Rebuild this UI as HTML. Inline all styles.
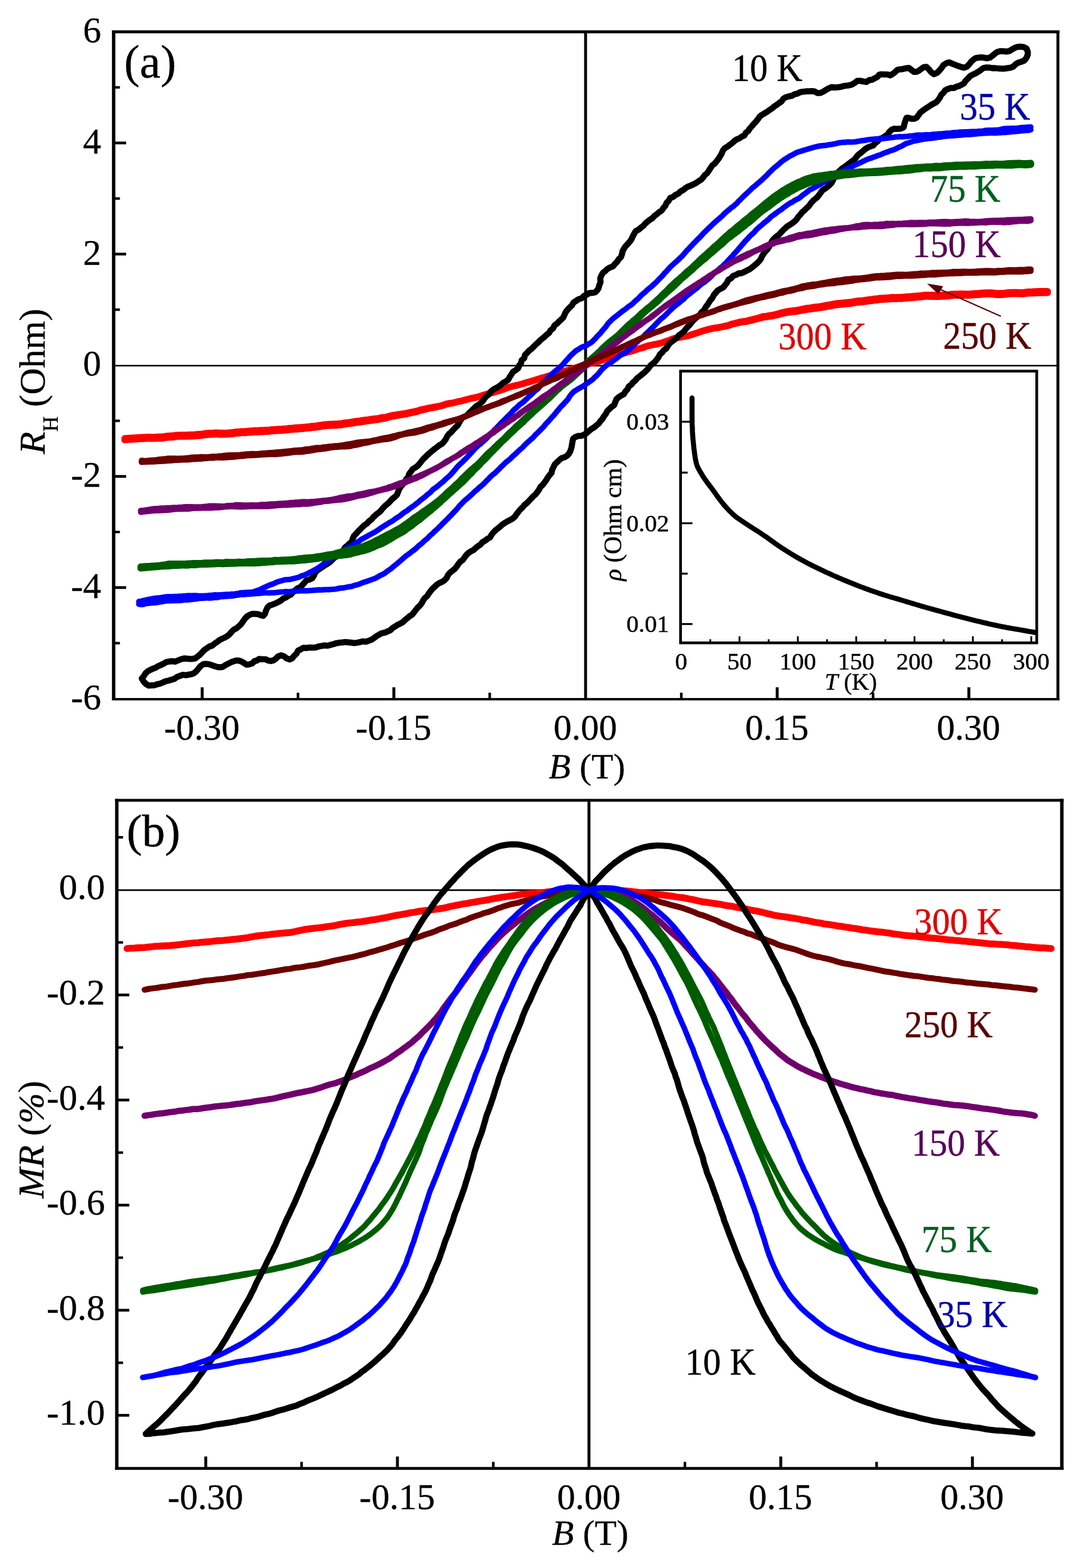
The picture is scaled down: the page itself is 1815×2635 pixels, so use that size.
<!DOCTYPE html>
<html lang="en"><head><meta charset="utf-8"><title>Hall resistance and magnetoresistance</title>
<style>html,body{margin:0;padding:0;background:#fff}body{width:1815px;height:2635px;overflow:hidden}svg{display:block}</style></head>
<body>
<svg width="1815" height="2635" viewBox="0 0 1815 2635" font-family="'Liberation Serif', serif" role="img" aria-label="Hall resistance and magnetoresistance versus magnetic field at several temperatures">
<rect width="1815" height="2635" fill="#fff"/>
<g><line x1="191" y1="614.5" x2="1777.9" y2="614.5" stroke="#000" stroke-width="2.7" stroke-linecap="butt"/>
<line x1="984.1" y1="53.5" x2="984.1" y2="1175" stroke="#000" stroke-width="4.9" stroke-linecap="butt"/>
<path d="M209.5 736.7L214.6 736.3L219.7 736L224.8 735.7L229.9 735.3L235 735L240.1 734.8L245.1 734.5L250.2 734.3L255.3 734.5L260.4 734.4L265.5 734L270.6 734.1L275.6 733.4L280.6 732.8L285.7 732.3L290.7 732.1L295.8 731.3L300.8 731L305.9 730.9L310.9 730.9L316 730.7L321 730.6L326 730.4L331.1 729.8L336.1 729.6L341.1 728.9L346.1 728.3L351.1 727.7L356.1 727.7L361.1 727.1L366.1 727.2L371.2 727.6L376.2 727.5L381.2 727.4L386.2 727L391.2 726.6L396.2 725.7L401.2 725.4L406.1 725L411.2 724.9L416.1 724.5L421.1 724.1L426.1 723.6L431.1 723.6L436 723.1L441 723.1L446 722.7L451 722.7L455.9 721.8L460.9 721.7L465.8 721.2L470.8 721.1L475.8 720.6L480.7 720.4L485.7 719.6L490.6 719.4L495.6 718.8L500.5 718.6L505.5 718L510.4 717.8L515.3 717.3L520.3 716.8L525.2 716L530.1 715.7L535 714.9L539.9 714.1L544.8 713.5L549.8 713L554.7 712.7L559.7 712.5L564.6 712.3L569.6 712L574.5 711.4L579.4 710.5L584.3 709.9L589.2 709.4L594.1 708.5L599 707.6L603.9 707.3L608.8 706.5L613.7 705.7L618.6 705.2L623.5 704.4L628.4 703.7L633.4 703.3L638.2 702.3L643.1 701.5L648.1 701L652.8 699.5L657.7 698.3L662.6 697.5L667.4 696.7L672.4 695.9L677.3 695.2L682.2 694.5L687 693.4L691.9 692.3L696.8 691.4L701.7 690.4L706.4 688.7L711.3 687.7L716.1 686.6L721 685.4L725.9 684.7L730.8 683.7L735.7 682.8L740.6 681.8L745.4 680.5L750.1 678.6L755 677.8L760 677.1L764.9 676L769.7 674.7L774.7 673.8L779.5 672.5L784.4 671.3L789.2 670L794.1 668.9L799 668L803.9 666.7L808.7 665.3L813.5 663.7L818.3 662.3L823.1 660.8L828 659.8L832.8 658.2L837.7 657L842.5 655.4L847.3 653.7L852 651.9L856.8 650.3L861.6 649L866.6 647.9L871.5 646.8L876.4 645.5L881.2 644.1L886 642.6L890.9 641.3L895.8 639.9L900.6 638.3L905.4 636.9L910.2 635.2L915.1 634L919.9 632.6L924.8 631.2L929.6 629.7L934.5 628.3L939.2 626.6L944 624.9L948.9 623.9L953.8 622.5L958.7 621.2L963.4 619.2L968.3 617.9L973 616.1L977.7 614.3L982.6 613L987.5 611.7L992.5 610.6L997.3 609.3L1002.3 608.3L1007.1 606.8L1011.9 605.2L1016.6 603.1L1021.2 601.1L1026.1 599.7L1030.8 597.8L1035.7 596.6L1040.6 595.5L1045.6 594.6L1050.4 592.9L1055.2 591.6L1060.2 590.5L1065 589L1069.7 587.1L1074.6 585.8L1079.4 584.5L1084.2 582.8L1088.9 581.1L1093.9 580.1L1098.8 579L1103.8 578.2L1108.7 577L1113.6 575.8L1118.3 574L1123.1 572.5L1127.8 570.5L1132.5 568.9L1137.4 567.7L1142.4 566.9L1147.3 565.8L1152.3 565L1157.2 564.1L1162 562.5L1166.8 561L1171.6 559.4L1176.3 557.7L1181 556.1L1185.9 554.7L1190.7 553.4L1195.6 552.2L1200.5 551.1L1205.5 550.5L1210.4 549.6L1215.3 548.5L1220.2 547.5L1225.1 546.3L1229.8 544.4L1234.7 543.4L1239.5 542L1244.3 540.8L1249.3 539.9L1254.3 539.4L1259.1 538.2L1263.9 536.9L1268.8 535.7L1273.6 534.4L1278.4 532.9L1283.2 531.6L1288.2 531.2L1293.1 530.1L1298.1 529.5L1302.9 528.3L1307.8 527.2L1312.5 525.6L1317.4 524.5L1322.3 523.4L1327.2 522.6L1332.1 521.9L1337.1 521.5L1342 520.8L1346.9 519.6L1351.8 518.7L1356.6 517.7L1361.6 517.2L1366.5 516.3L1371.4 515.7L1376.3 515.1L1381.3 514.5L1386.1 513.4L1391 512.4L1395.9 511.7L1400.8 510.7L1405.7 509.8L1410.6 509.4L1415.6 508.9L1420.5 508.4L1425.4 508L1430.4 507.5L1435.3 506.6L1440.2 505.8L1445.1 505.3L1450.1 504.9L1455 504.2L1459.9 503.4L1464.8 502.9L1469.7 502.1L1474.7 501.8L1479.6 501L1484.6 500.7L1489.5 500.4L1494.5 500.1L1499.4 499.5L1504.4 499.8L1509.4 499.5L1514.4 499.3L1519.3 498.9L1524.3 498.6L1529.3 498.2L1534.2 497.8L1539.2 497.3L1544.2 496.9L1549.1 496.4L1554.1 495.7L1559.1 495.7L1564.1 495.8L1569.1 495.7L1574.1 496L1579.1 495.9L1584.1 495.7L1589.1 495.5L1594.1 495.1L1599 494.3L1604.1 494L1609.1 493.9L1614.1 493.8L1619.1 493.7L1624.1 494L1629.2 494L1634.2 493.5L1639.2 493L1644.2 493L1649.2 492.3L1654.3 492L1659.3 491.7L1664.3 491.7L1669.4 492.1L1674.5 492.8L1679.5 492.8L1684.6 492.6L1689.6 492.2L1694.7 491.5L1699.7 491.2L1704.8 491.2L1709.9 491.2L1714.9 491.4L1720 491.5L1725.1 490.6L1730.1 490.2L1735.2 490.1L1740.3 489.8L1745.4 489.5L1750.5 489.6L1755.6 489.5L1760.7 489.4" fill="none" stroke="#ff0000" stroke-width="11" stroke-linecap="round" stroke-linejoin="round" />
<path d="M209.5 739.3L214.6 738.9L219.7 738.6L224.8 738.3L229.9 737.9L235 737.6L240.1 737.4L245.1 737.1L250.2 736.9L255.3 737.1L260.4 737L265.5 736.6L270.6 736.7L275.6 736L280.6 735.4L285.7 734.9L290.7 734.7L295.8 733.9L300.8 733.6L305.9 733.5L310.9 733.5L316 733.3L321 733.2L326 733L331.1 732.4L336.1 732.2L341.1 731.5L346.1 730.9L351.1 730.3L356.1 730.3L361.1 729.7L366.1 729.8L371.2 730.2L376.2 730.1L381.2 730L386.2 729.6L391.2 729.2L396.2 728.3L401.2 728L406.1 727.6L411.2 727.5L416.1 727.1L421.1 726.7L426.1 726.2L431.1 726.2L436 725.7L441 725.7L446 725.3L451 725.3L455.9 724.4L460.9 724.3L465.8 723.8L470.8 723.7L475.8 723.2L480.7 723L485.7 722.2L490.6 722L495.6 721.4L500.5 721.2L505.5 720.6L510.4 720.4L515.3 719.9L520.3 719.4L525.2 718.6L530.1 718.3L535 717.5L539.9 716.7L544.8 716.1L549.8 715.6L554.7 715.3L559.7 715.1L564.6 714.9L569.6 714.6L574.5 714L579.4 713.1L584.3 712.4L589.2 711.9L594.1 711.1L599 710.1L603.9 709.7L608.8 708.9L613.7 708L618.6 707.5L623.5 706.7L628.4 706L633.4 705.5L638.2 704.5L643.1 703.6L648.1 703L652.8 701.4L657.7 700.2L662.6 699.3L667.4 698.4L672.4 697.6L677.3 696.8L682.2 696.1L687 694.8L691.9 693.7L696.8 692.8L701.7 691.6L706.4 689.9L711.3 688.8L716.1 687.6L720.9 686.4L725.9 685.6L730.8 684.6L735.7 683.6L740.6 682.5L745.4 681.2L750.1 679.2L755 678.4L760 677.6L764.9 676.4L769.7 675L774.7 674.2L779.5 672.8L784.4 671.5L789.2 670.2L794.1 669.1L799.1 668.2L803.9 666.8L808.7 665.3L813.5 663.8L818.3 662.3L823.1 660.8L828 659.8L832.8 658.2L837.7 657L842.5 655.4L847.3 653.7L852 651.9L856.8 650.3L861.6 649L866.6 647.9L871.5 646.8L876.4 645.5L881.2 644.1L886 642.6L890.9 641.3L895.8 639.9L900.6 638.3L905.4 636.9L910.2 635.2L915.1 634L919.9 632.6L924.8 631.2L929.6 629.7L934.5 628.3L939.2 626.6L944 624.9L948.9 623.9L953.8 622.5L958.7 621.2L963.4 619.2L968.3 617.9L973 616.1L977.7 614.3L982.6 613L987.5 611.7L992.5 610.6L997.3 609.3L1002.3 608.3L1007.1 606.8L1011.9 605.2L1016.6 603.1L1021.2 601.1L1026.1 599.7L1030.8 597.8L1035.7 596.6L1040.6 595.5L1045.6 594.6L1050.4 592.9L1055.2 591.6L1060.2 590.5L1065 589L1069.7 587.1L1074.6 585.8L1079.4 584.5L1084.2 582.8L1088.9 581.1L1093.9 580.1L1098.8 579L1103.8 578.2L1108.7 577L1113.6 575.8L1118.3 574L1123.1 572.5L1127.8 570.5L1132.5 568.9L1137.4 567.7L1142.4 566.9L1147.3 565.8L1152.3 565L1157.2 564.1L1162 562.6L1166.8 561.1L1171.6 559.6L1176.3 557.9L1181 556.3L1185.9 554.9L1190.7 553.7L1195.6 552.6L1200.5 551.5L1205.5 551L1210.4 550.1L1215.3 549.1L1220.2 548.2L1225.1 547L1229.8 545.2L1234.7 544.2L1239.5 542.8L1244.3 541.8L1249.3 540.9L1254.3 540.5L1259.1 539.4L1263.9 538.1L1268.8 536.9L1273.6 535.7L1278.4 534.4L1283.2 533.1L1288.2 532.7L1293.1 531.8L1298.1 531.2L1302.9 530L1307.8 529.1L1312.5 527.5L1317.4 526.4L1322.3 525.4L1327.2 524.7L1332.1 524L1337.1 523.7L1342 523L1346.9 521.9L1351.8 521.1L1356.6 520.1L1361.6 519.6L1366.5 518.8L1371.4 518.2L1376.3 517.6L1381.3 517L1386.1 516L1391 515L1395.9 514.3L1400.8 513.3L1405.7 512.4L1410.6 512L1415.6 511.5L1420.5 511L1425.4 510.6L1430.4 510.1L1435.3 509.2L1440.2 508.4L1445.1 507.9L1450.1 507.5L1455 506.8L1459.9 506L1464.8 505.5L1469.7 504.7L1474.7 504.4L1479.6 503.6L1484.6 503.3L1489.5 503L1494.5 502.7L1499.4 502.1L1504.4 502.4L1509.4 502.1L1514.4 501.9L1519.3 501.5L1524.3 501.2L1529.3 500.8L1534.2 500.4L1539.2 499.9L1544.2 499.5L1549.1 499L1554.1 498.3L1559.1 498.3L1564.1 498.4L1569.1 498.3L1574.1 498.6L1579.1 498.5L1584.1 498.3L1589.1 498.1L1594.1 497.7L1599 496.9L1604.1 496.6L1609.1 496.5L1614.1 496.4L1619.1 496.3L1624.1 496.6L1629.2 496.6L1634.2 496.1L1639.2 495.6L1644.2 495.6L1649.2 494.9L1654.3 494.6L1659.3 494.3L1664.3 494.3L1669.4 494.7L1674.5 495.4L1679.5 495.4L1684.6 495.2L1689.6 494.8L1694.7 494.1L1699.7 493.8L1704.8 493.8L1709.9 493.8L1714.9 494L1720 494.1L1725.1 493.2L1730.1 492.8L1735.2 492.7L1740.3 492.4L1745.4 492.1L1750.5 492.2L1755.6 492.1L1760.7 492" fill="none" stroke="#ff0000" stroke-width="11" stroke-linecap="round" stroke-linejoin="round" />
<path d="M238.3 1140.3L241.6 1136.2L244.4 1131.8L248.1 1128.2L252.6 1125.7L257 1123.7L261.5 1122.1L265.6 1119.5L270.3 1117.5L274.9 1115.3L279.4 1112.6L284.3 1111.7L289.3 1111.1L294.5 1111.8L299.5 1109.7L304.5 1107.8L309.6 1106.5L314.6 1106.8L319.6 1107.4L324.2 1107.1L328.7 1106.1L332.4 1103L336.3 1099.9L339.9 1096L343.6 1092.1L348 1089.2L352 1086.3L356.8 1085L360.6 1081.5L364.9 1078.7L368.9 1075.6L373.3 1073.4L377.9 1071.4L382.2 1068.8L386 1065.6L389.3 1061.6L392.9 1058.1L397.5 1055.7L401.4 1052.4L405.4 1048.6L408.6 1043.9L411.9 1039.4L415.5 1035.6L419.7 1033.3L423.8 1031.6L428.6 1031.7L434.3 1032.2L439.1 1034.2L442.6 1034.8L445.2 1031.6L447.1 1025.9L449.7 1020.6L453.2 1017.4L457.9 1016.1L462.3 1014.3L466.8 1012.1L471.5 1009.7L475.7 1006.1L480.5 1004.1L484.6 1001.3L489 999L492.3 995.2L496.1 992L499.9 988.8L504.8 986.8L508.2 983L511.6 979.2L515 975.4L520.2 973.9L524.8 971.6L527.7 967.2L529.7 962L533.3 958.6L537.5 955.7L541.8 953L545.8 949.9L550.2 947.4L554.5 944.7L558 941.1L561.5 937.5L565.9 934.9L569.9 931.8L573.8 928.6L577 924.7L579.7 920.3L583.6 917.1L587.1 913.6L591.3 910.5L592.7 905.2L595 900.6L598.4 896.9L601.8 893.2L605.3 889.6L608.8 886L612.5 882.6L616.7 879.8L620 876L624.2 873.1L627.3 869.1L631 865.8L634.9 862.6L638.9 859.6L642 855.6L645.4 851.9L649 848.4L653 845.2L656.4 841.5L659.8 837.9L663.9 834.8L667.3 831.2L669.1 826.3L671 821.6L673.9 817.5L677.1 813.6L680.5 809.7L682.7 805.2L686.2 801.5L687.6 796.4L690.7 792.5L693.5 788.3L698 785.6L702.1 782.6L705.4 778.8L708.5 774.8L711.7 771L715.4 767.6L718.9 764L722.6 760.8L726.5 757.5L730.4 754.4L734.5 751.4L738.3 748.2L742.9 745.7L746.3 742L749.3 737.9L751.5 733.2L754.6 729.3L758.5 726L761.8 722.2L765.2 718.5L769 715.2L771.3 710.6L774.1 706.3L776.9 702L781.8 699.8L786 696.9L789.3 693.1L793 689.8L796.6 686.3L800.2 682.8L804.6 680.2L808.3 676.8L811.9 673.4L814.6 668.9L818.1 665.3L822.1 662.4L825 658L828.9 654.7L833.3 652.2L837.8 649.8L841.8 646.8L845.4 643.5L850 641L854.2 638.2L856.6 633.4L859.5 629.3L862.1 624.8L866.5 622.1L870.6 619L872.6 614.2L875.6 610.3L876.8 605.2L881.1 601.8L882.2 596.6L885.8 593L889.1 589.3L893.1 586.3L896.7 582.8L900.2 579.2L904 575.9L907.5 572.2L911.4 569L915.3 565.9L918.8 562.3L922.9 559.3L925.4 554.8L929.5 551.8L931.8 546.9L935.9 544L939.4 540.4L943.1 537L946.7 533.4L948.7 528.7L951 524L954.1 520.1L957.6 516.5L961.3 513L963.8 508.3L968.4 505.5L972.8 502.7L977.7 501.2L980.9 497.6L985.4 495.5L990.4 492.5L995.7 492.2L1000.2 491.3L1003.2 488.4L1005.8 484.4L1007.2 479.2L1009.2 473.9L1008.7 467.9L1010.8 462.8L1013.2 458.5L1017 455.6L1020.6 452.1L1025.1 449.5L1030.2 447.6L1033.5 443.5L1037 440L1039.7 435.8L1043.5 432.1L1045.2 427.2L1046.4 422L1048.7 417.6L1051.6 413.6L1055 409.9L1058.3 406.1L1061.3 402.1L1063.3 397.3L1065.8 392.7L1068.4 388.3L1073.3 385.9L1077 382.6L1081.1 379.6L1084.3 375.7L1088.1 372.5L1092.1 369.4L1096.4 366.7L1099.7 362.9L1103.8 360L1107.6 356.6L1111.9 353.9L1114.8 349.7L1118.1 345.9L1120.3 340.9L1123.8 337.3L1126.3 332.6L1131.4 330.8L1135.3 327.5L1140 325.4L1143.5 321.8L1148 319.4L1151.9 316.2L1156.1 313.6L1161 311.8L1165.6 309.7L1170.1 307.4L1174.3 304.4L1178.6 301.7L1181.8 297.9L1184.6 294L1188.4 291L1191.2 286.8L1194 282.6L1196.8 278.3L1200.9 275L1204.2 271.2L1207.2 267.2L1210 262.9L1212.6 258.5L1214.6 253.6L1217.6 249.4L1222 246.7L1226.1 243.8L1229.9 240.8L1233.8 237.3L1238 234.3L1242.7 232.4L1246.6 229.6L1251 227.5L1253.4 223.1L1257.4 220.1L1260.1 215.9L1263.5 212.1L1266.8 208.2L1270.3 204.5L1273.5 200.6L1276.4 196.3L1280.3 193.1L1284.7 190.5L1289.2 187.9L1293.2 184.8L1297.5 182.2L1301.2 178.9L1305.4 176.2L1309.4 173.2L1313.6 170.3L1316.6 165.7L1321 163.3L1325.7 161.8L1330.7 161.1L1335.1 158.6L1340 157.3L1344.7 154.9L1349.8 154.2L1354.8 153.5L1359.8 153.3L1364.4 153.1L1369 153.7L1373.7 156.3L1379 156.1L1383.7 153.9L1388.2 151.1L1392.8 148.5L1397.4 146.5L1402.5 147L1407.5 146.7L1412.5 146.1L1417.5 144.7L1422.3 144L1427.1 143.4L1432 142L1436.5 139.2L1440.7 135.9L1445.9 135.9L1450.7 136.9L1455.8 137.8L1461 134.5L1465.4 134.2L1468.9 132.1L1474.5 129.2L1477.6 125.5L1480.9 124.8L1485.8 125.2L1491.3 125.1L1495.8 126.5L1499.9 124.5L1504.3 121.1L1508.3 117.3L1512.5 116.5L1517.1 116.1L1522.2 114.8L1527.4 114.1L1531.8 117.6L1536.1 120.9L1540.1 120.7L1544.7 118.6L1549.2 115L1552.4 112.9L1557 112.5L1561.1 116.5L1564.7 121.1L1569.4 124.6L1574.7 122.5L1578.7 118.5L1582.4 114.1L1585.7 109.1L1590.4 106.3L1595.5 104.8L1600.4 107.2L1605.3 109L1610.3 110.9L1615.1 112.5L1619.7 113.7L1624.3 112.4L1628.3 108.6L1631.9 104L1635.9 100.1L1639.9 97.5L1644.3 96.8L1649.4 96.4L1654.5 97.1L1659.3 97.8L1663.8 96.8L1668 93.4L1672.3 89.9L1676.5 87.2L1681.1 85.9L1686.2 86.1L1691.2 86.6L1696.4 85.8L1700.9 82.9L1705.3 80.4L1709.9 78.9L1715.4 78.3L1720.8 79.3L1725.4 81.8L1727.3 87.6L1727.2 91.8L1725.2 96.7L1721.7 101.6L1715.9 103.9L1710.5 105.7L1706.4 108.3L1702.7 112.1L1697.7 113.9L1692.4 114.7L1687.4 115.4L1682.6 115.3L1677.8 115L1672.8 114.5L1667.7 114.5L1662.7 113.6L1657.5 113.4L1652.2 114.5L1647.9 118L1643.5 120.9L1639.1 123.5L1634.6 125.4L1630.2 128L1626.7 132L1622.7 135.7L1619.9 140.2L1615.6 142.5L1612 144.4L1607.8 145.5L1603 147.8L1597.7 147.8L1593.1 149.5L1588.6 151.7L1585.5 155.8L1581.7 159.5L1579.3 164.4L1576.2 168.8L1572.4 172.5L1567.7 174.7L1563.5 177.2L1559.4 180L1555.2 182.8L1551 185.7L1546.9 188.8L1543.6 193.4L1540.3 197.8L1536.4 199.6L1531.5 199.5L1526.3 197.8L1523.5 198L1521.9 201.8L1520 207.9L1518.5 214.1L1513.6 216.2L1508.1 216.7L1502.6 216.3L1498.1 218.2L1494.5 221.7L1491.7 226.2L1487.2 229L1483 232L1478.1 233.5L1474.9 237.6L1470.8 240.5L1467.3 244.6L1462.4 246.2L1457.8 248.1L1453.6 250.9L1449.9 254.2L1446 257.4L1442 260.4L1438.9 264.4L1435.8 268.4L1431.5 271.2L1427.7 274.3L1423.6 277.2L1419.7 280.3L1415.4 283.1L1411.8 286.5L1407.9 289.9L1404.4 293.5L1402.2 298.2L1399.8 302.8L1397.5 307.4L1393.9 311L1390.1 314.3L1386.1 317.3L1381.8 320.1L1378.9 324.3L1375.9 328.4L1372.7 332.2L1368.8 335.3L1365.1 338.7L1361.9 342.6L1359 346.7L1355.2 350.1L1351.7 353.6L1347.9 356.9L1344.9 360.9L1341.4 364.5L1338.6 369L1334.9 372.4L1331 375.5L1326.7 378.1L1322.5 380.9L1318.8 384.3L1315.1 387.7L1311.7 391.4L1308.4 395.1L1304.2 397.9L1300.5 401.4L1297.3 405.2L1295.1 409.8L1292.7 414.3L1290 418.6L1286.4 422.3L1283.3 426.3L1280.7 430.5L1278.6 435.2L1275.5 439.1L1272 442.6L1268.1 446L1264.1 449.2L1259.9 452.3L1255.3 454.6L1250.9 456.8L1246.5 459L1241.2 459.5L1236.8 462L1231.9 463.7L1228.5 467.8L1224 470.3L1221.6 475.4L1218.4 479.2L1215.4 483L1210.7 485.4L1206 488.1L1202.9 492L1199.5 495.9L1197.3 500.5L1194 504.3L1191.3 508.5L1188.6 512.7L1185.6 516.7L1183.1 521.2L1179.1 524.4L1176.6 528.8L1172.6 531.9L1168.8 535.2L1165 538.6L1161.7 542.3L1158.7 546.3L1155.1 549.8L1151.9 553.7L1148.8 557.6L1144.9 560.8L1140.7 563.7L1137.6 567.6L1133.5 570.6L1129.5 573.7L1125.5 576.8L1122.6 580.9L1119.9 585.4L1115.7 588.3L1112.7 592.3L1108.9 595.6L1106.7 600.3L1103.6 604.2L1100.5 608.2L1096.5 611.3L1092.8 614.6L1089.9 618.7L1086.5 622.4L1082.9 626L1079 629.1L1075.1 632.3L1071 635.3L1067.9 639.2L1064 642.4L1061 646.4L1056.8 649.4L1054.6 654.2L1051 657.8L1048.5 662.4L1043.9 664.7L1039.6 667.6L1035.9 670.9L1033.9 676L1032 680.9L1027.8 683.7L1024.2 687.3L1020.5 690.8L1018.3 695.4L1015.1 699.4L1012.6 703.7L1009.2 707.4L1006.4 711.6L1002.4 714.8L998.6 718.2L994 720.7L990.1 723.9L986.5 727.4L982.3 730.1L977.4 732.3L971.7 732.6L966.9 734.3L963.3 737.1L962.1 741.9L961.3 747L960.3 752.5L958.6 757.8L956.1 762.5L952.9 765.9L948.9 768.3L943.8 769.9L939.6 773.4L935.9 776.9L932.4 780.4L930.2 784.9L927.9 789.5L926.9 794.7L923.4 798.7L920.3 802.8L917.8 807.2L914.8 811.1L911.8 815L908.1 818.4L905.8 823.1L902.8 827.1L899.7 831.1L895.8 834.4L892.5 838.2L889 841.7L885.5 845.4L881.5 848.6L878.3 852.5L874.6 856L871.4 859.8L868.4 863.7L865.6 867.9L861.9 871.3L857.5 873.8L852.9 876L848.6 878.7L844.4 881.3L840.8 884.7L836.9 887.8L832.9 891L829.3 894.6L826.1 898.5L823.6 903.1L819.1 905.6L815.3 908.6L811 911L807.6 914.9L803.4 917.8L799.5 920.9L795.7 924.3L791.3 926.5L787.2 929.3L783.6 932.8L780.6 936.8L777.8 941L773.4 943.9L770.3 947.9L767.5 952.1L764.3 956L760.3 959.1L756.3 962.2L753.1 966.1L750.8 970.9L747.6 974.7L743.4 977.6L738.5 979.7L734.2 982.5L730.6 986L726.8 989.3L723.7 993.2L720.6 997.2L717.9 1001.6L714.1 1004.9L711.1 1008.9L708.8 1013.5L705.8 1017.5L702 1021L698.9 1024.9L695.8 1028.9L692.7 1032.8L688.3 1035.5L684.6 1038.8L680.6 1041.9L677 1045.5L672.6 1048L668 1050.1L663.9 1052.8L659.8 1055.4L656.1 1059L651.5 1061L647 1063.2L641.8 1064L637.3 1066.3L633 1068.9L628.8 1072L624.5 1074.9L619.7 1076.7L615 1078.4L609.9 1077.8L605.1 1078.9L600.1 1080.1L595.1 1080.6L590 1079.9L584.9 1079.3L579.8 1079L574.8 1079.7L569.8 1080.1L564.9 1081L560.1 1082.6L555.3 1083.7L550.5 1085.1L545.2 1084.7L540.3 1085.5L535.4 1086.3L530.5 1088.1L525.3 1088.4L520 1088.2L515 1089L509.8 1088.6L505.5 1091.2L501 1093.2L498.3 1098.5L494 1102.4L491 1106.3L486.6 1108.3L481.4 1106.3L477.2 1102.8L472.4 1101.2L467 1103.3L463.1 1107.3L459.5 1109.8L455.5 1110.9L450.7 1110L445.9 1107.8L440.5 1107.8L435.4 1107.3L431.6 1110.2L427.8 1110.9L423.9 1114.9L418.2 1116.6L414.6 1117L411.4 1115.1L406.8 1112.1L401.5 1110.2L397.3 1109.8L393.3 1111.1L388.6 1112.7L383.8 1115.2L378.9 1117.7L374.6 1120.6L369.8 1121.4L365.3 1120.9L360.4 1119.4L355.4 1117.6L350.4 1116.1L345.8 1115.7L341.6 1116.2L337.5 1119L333.8 1123.2L330.3 1127.6L326.5 1131L322.3 1132.9L317.5 1133.7L312.5 1134.6L307.1 1134L302.2 1135.9L297.5 1137.6L293.3 1140.7L288.4 1142.1L283.7 1143.7L278.7 1144.7L274 1146.8L269.2 1148.7L264.1 1149.9L259.6 1151.5L255.1 1151.7L250.1 1152.2L245.5 1149.5L241.5 1145.5L238.3 1140.3" fill="none" stroke="#000000" stroke-width="10.3" stroke-linecap="round" stroke-linejoin="round" />
<path d="M233.3 1010.9L237.2 1010.3L240.9 1009.3L244.7 1008.4L248.6 1007.6L252.4 1006.8L256.3 1006L260.2 1005.4L264.1 1005L268.1 1004.6L272.1 1004.1L276 1003.4L280 1003L284 1002.7L288.1 1002.8L292.1 1002.5L296.2 1002.5L300.2 1002.1L304.3 1002L308.3 1001.5L312.4 1001.3L316.5 1000.9L320.6 1001.1L324.7 1000.8L328.8 1000.8L332.9 1001.1L337 1001.3L341.1 1001.4L345.1 1001.1L349.2 1000.9L353.3 1000.3L357.4 1000.1L361.4 999.6L365.5 999.8L369.5 999.6L373.6 999.5L377.6 999.1L381.6 998.8L385.6 998.9L389.6 998.4L393.6 998.3L397.5 997.6L401.4 997.1L405.3 996.1L409.2 995.9L413.1 995.6L417 995.5L420.8 995.1L424.7 995L428.5 993.8L432.1 992.4L435.9 991.2L439.5 989.5L443.1 987.5L446.9 986L450.7 984.3L454.4 982.7L458.2 981.5L461.8 980L465.4 978.2L469.1 977L472.9 976L476.6 974.8L480.4 974.1L484.3 973.9L488.2 973.6L491.9 972.5L495.7 971.7L499.4 970.8L503.1 969.6L506.6 967.8L510.5 966.9L514.1 965.2L517.8 963.6L521.3 961.6L525.1 959.9L528.6 957.9L532.3 956L535.7 953.6L539.1 951.2L542.5 948.8L545.6 945.9L549.2 943.8L552.5 941.2L555.7 938.6L559.4 936.6L563.1 934.7L566.2 932L569.9 930.1L573.4 928.2L576.5 925.6L579.8 923.3L583.2 921.3L586.5 919.1L590.1 917.4L593.5 915.6L596.8 913.6L600 911.3L603.4 909.4L606.5 907.1L609.8 905.1L613.2 903.2L616.6 901.4L620 899.4L623.4 897.7L626.8 895.8L630.3 894L633.6 891.8L636.9 889.7L640.1 887.3L643.4 885.2L646.9 883.1L650.3 881L653.6 878.7L657.2 876.9L660.7 874.7L663.9 872.2L667.3 869.9L670.8 867.8L674 865.3L677.2 862.7L680.6 860.3L684.1 858.3L687.3 855.6L690.6 853.2L694 850.9L697.3 848.4L700.5 845.8L703.7 843.3L706.7 840.5L710.1 838.2L713.3 835.7L716.3 833L719.4 830.3L722.7 828L725.5 825.1L728.2 822.2L731.6 819.9L734.8 817.6L737.8 815L740.8 812.4L744 810L746.8 807.3L749.6 804.5L752.6 802L755.6 799.5L758.3 796.6L760.9 793.7L763.5 790.7L766 787.8L768.4 784.7L771.2 781.9L774.1 779.2L777 776.6L779.6 773.7L782.6 771.1L785.3 768.2L788 765.3L790.6 762.4L793.3 759.4L796 756.4L798.6 753.4L801.6 750.7L804.5 747.9L807.8 745.6L810.7 742.8L813.9 740.3L816.8 737.4L819.7 734.6L822.5 731.7L825.3 728.7L828.1 725.8L830.7 722.6L833.7 719.9L836.5 716.9L839.4 714L842.1 710.9L845.1 708.1L848 705.2L850.8 702.3L853.6 699.4L856.6 696.6L859.5 693.7L862 690.5L864.9 687.6L868.1 685.1L871 682.2L873.9 679.4L877.4 677.2L880.5 674.6L883.4 671.8L886.4 669.2L889.2 666.2L892.2 663.6L895.1 660.8L897.9 658L901 655.5L904.2 653.1L906.6 650L909.3 647.1L912.1 644.3L914.7 641.4L917.3 638.5L920 635.7L922.8 633.1L925.7 630.4L928.4 627.7L931.4 625.2L934.5 622.7L937.5 620.2L940.4 617.4L943.6 614.9L946.5 612L949.1 608.7L951.9 605.5L954.9 602.5L957.6 599.1L960.6 596.2L963.7 593.3L966.7 590.4L970 588.1L973.4 586.2L976.5 584L980 582.6L983.5 581.7L986.6 579.8L989.6 577.9L992.8 576.2L995.6 574L998.1 571.2L1000.9 568.6L1003.4 565.6L1006.2 562.6L1009.3 559.6L1011.9 556.2L1014.7 552.9L1017.7 549.8L1020 546.3L1022.4 543L1025.4 540.2L1028.2 537.3L1031.1 534.6L1034.3 532.3L1037.4 529.9L1040.4 527.4L1043.5 525.1L1046.4 522.5L1049.8 520.5L1052.8 518L1055.8 515.5L1059.1 513.3L1062.4 511.2L1065.1 508.3L1068 505.6L1071 503.1L1073.9 500.4L1076.6 497.4L1079.5 494.7L1082.6 492.2L1085.6 489.6L1088.4 486.7L1091.6 484.2L1094.7 481.7L1097.6 479L1100.6 476.3L1103.7 473.6L1106.3 470.5L1109.1 467.7L1112 464.8L1114.7 461.8L1117.2 458.6L1120.1 455.8L1122.8 452.7L1125.6 449.8L1128.4 446.8L1131.5 444.2L1134.4 441.3L1137.5 438.8L1140.5 436L1143.5 433.2L1146.4 430.4L1149 427.3L1151.7 424.2L1154.3 421.1L1157.2 418.3L1159.9 415.3L1162.8 412.4L1165.4 409.3L1168.3 406.6L1171 403.6L1173.9 400.8L1176.9 398L1179.5 395L1182.3 392.1L1185.1 389.3L1187.9 386.5L1190.8 383.7L1193.7 381L1196.5 378.2L1199.4 375.5L1202.3 372.8L1205.3 370.2L1208.4 367.6L1211.3 365L1214.3 362.4L1217 359.4L1220 356.9L1222.9 354.2L1226 351.8L1228.9 349L1232.4 346.9L1235.2 344.2L1238.3 341.7L1240.8 338.5L1243.8 335.9L1246.5 333L1249.4 330.2L1252.2 327.4L1255.2 324.8L1258.1 322L1261 319.3L1263.8 316.3L1266.9 313.8L1270.1 311.3L1273.1 308.6L1276.2 306L1279.3 303.3L1282.2 300.5L1285.2 297.7L1288.3 295L1291 291.9L1293.9 289L1296.9 286.2L1299.8 283.3L1302.9 280.7L1306 278.1L1309.1 275.6L1312.1 272.8L1315.3 270.4L1318.4 267.9L1321.8 265.9L1325.1 263.8L1328.5 261.8L1332 260.1L1335.5 258.2L1338.9 256.2L1342.6 255.1L1346.5 254.1L1350.1 252.7L1353.9 251.6L1357.7 250.5L1361.4 249.4L1365.2 248.2L1369.1 247.2L1373 246.3L1376.9 245.4L1380.9 244.8L1384.9 244.5L1388.9 244.1L1392.9 243.2L1396.9 242.9L1400.9 242L1404.9 241.3L1408.9 240.2L1412.9 239.7L1416.9 239.2L1421 239.1L1425 238.5L1429.1 238.9L1433.1 238.7L1437.1 238.3L1441.1 237.6L1445 237L1449 236.3L1453 235.8L1456.9 235.1L1460.9 234.6L1464.9 234.2L1468.9 233.8L1472.9 233.5L1476.9 233.4L1480.8 233L1484.8 232.9L1488.8 232.2L1492.8 232L1496.7 231.2L1500.7 231L1504.6 230.2L1508.6 230L1512.6 229.7L1516.6 229.8L1520.6 229.5L1524.6 229.4L1528.5 228.7L1532.5 228.3L1536.5 227.9L1540.5 227.2L1544.4 226.9L1548.5 227.1L1552.5 226.8L1556.5 226.5L1560.5 226.6L1564.5 226.4L1568.4 225.7L1572.5 225.6L1576.4 225.2L1580.4 224.9L1584.4 224.6L1588.4 224.2L1592.4 223.9L1596.4 223.8L1600.4 223.1L1604.4 222.7L1608.4 222.6L1612.4 222L1616.4 221.8L1620.4 221.7L1624.4 221.6L1628.4 221.3L1632.5 221.1L1636.5 221.2L1640.5 221.1L1644.5 220.6L1648.5 220.3L1652.5 220.1L1656.4 219.1L1660.5 219L1664.5 219L1668.5 218.9L1672.5 218.6L1676.5 218.5L1680.5 217.8L1684.4 216.9L1688.4 216.2L1692.4 216L1696.4 215.9L1700.4 215.7L1704.4 215.6L1708.4 215.5L1712.4 215.1L1716.3 214.3L1720.3 214.2L1724.3 214L1728.3 213.6L1732.3 213.4" fill="none" stroke="#0000ff" stroke-width="9.3" stroke-linecap="round" stroke-linejoin="round" />
<path d="M233.3 1015.3L237.4 1015.9L241.4 1015.5L245.4 1014.2L249.4 1013.9L253.4 1013.4L257.4 1013.1L261.4 1012.8L265.4 1012.2L269.4 1011.5L273.4 1011L277.3 1010L281.3 1009.7L285.3 1009.6L289.3 1009.7L293.3 1009.3L297.3 1009.3L301.3 1009.1L305.3 1008.9L309.3 1008.1L313.3 1008.2L317.3 1007.8L321.2 1007.5L325.2 1006.9L329.2 1006.7L333.1 1005.7L337.1 1005.4L341 1005.3L345 1004.8L349 1004.9L353 1005L357 1004.6L360.9 1004L364.9 1004L368.9 1003.3L372.8 1002.5L376.8 1002.5L380.7 1002L384.7 1001.8L388.7 1001.6L392.6 1001.1L396.6 1000.5L400.5 999.9L404.5 999.2L408.5 999L412.5 998.8L416.4 998.3L420.4 998.4L424.4 997.9L428.4 997.7L432.4 997.3L436.4 997.1L440.3 996.5L444.3 996.1L448.3 996.1L452.4 996.4L456.3 996.1L460.4 996.1L464.4 995.7L468.4 995.2L472.4 994.8L476.4 994.7L480.4 994.2L484.4 994.5L488.5 994.1L492.5 993.6L496.5 993.3L500.5 993.2L504.6 992.9L508.6 992.8L512.7 992.7L516.8 992.8L520.8 992.4L524.8 992.2L528.9 991.8L532.9 991.5L537 991.2L541 991.3L545 990.8L549.1 990.8L553.1 990.8L557.1 990.3L561.1 990.1L565.1 989.8L569 988.9L572.9 988.1L577 988L580.8 987.2L584.7 986.3L588.7 985.9L592.5 984.9L596.3 983.6L600.1 982.7L603.9 981.6L607.5 980L611.2 978.6L615 977.6L618.7 976.2L622.4 974.9L626.1 973.5L629.9 972.1L633.5 970.3L637 968.2L640.6 966.3L644.4 964.7L647.8 962.4L651 959.8L654.5 957.6L657.8 955.2L660.8 952.4L664 949.9L667.2 947.3L670.2 944.7L673.4 942.2L676.3 939.4L679.3 936.8L682.3 934.2L685.6 932L688.7 929.7L691.7 927.2L694.8 924.9L698 922.6L700.8 920L703.5 917.3L706.6 915L709.6 912.5L712.3 909.8L715.3 907.3L718.3 904.8L721 901.9L723.7 899.1L726.9 896.7L729.6 893.8L732.6 891.1L735.6 888.4L738.4 885.5L741.3 882.8L744 879.8L747 877L749.9 874.2L752.8 871.4L755.5 868.3L758.5 865.5L761.2 862.4L764 859.5L766.9 856.6L769.5 853.4L772.1 850.2L775 847.4L777.8 844.4L780.7 841.5L783.8 838.9L786.9 836.2L790 833.5L793 830.8L795.9 828.1L798.7 825.2L802 822.7L804.8 819.8L807.9 817.3L811 814.7L814 812L816.6 809L819.6 806.3L822.3 803.3L825.1 800.4L828.1 797.8L831.3 795.4L834.2 792.6L837.1 789.9L839.9 787.1L842.6 784.2L845.6 781.5L848.4 778.7L851.3 776L854.5 773.5L857.6 771.1L860.3 768.2L863.2 765.5L866.3 762.9L869.1 760.1L872 757.4L874.9 754.8L878 752.2L880.6 749.2L883.4 746.4L886.3 743.7L889.4 741.1L892.3 738.4L895.3 735.9L898 732.9L900.6 729.9L903.6 727.3L906.4 724.4L909.2 721.6L912 718.7L914.8 715.9L917.1 712.6L919.9 709.7L922.8 706.8L925.4 703.8L928 700.7L930.9 697.9L933.4 694.7L935.8 691.5L938.6 688.5L941 685.3L943.9 682.3L946.8 679.4L949.4 676.3L952.4 673.4L955 670.2L957.1 666.7L959.4 663.4L962.1 660.5L964.8 657.7L968.2 655.7L971.3 653.8L974.5 651.9L977.8 650.2L981 648.2L984.1 646.1L987.1 643.9L990.3 641.8L993.4 639.5L996.6 637.1L999.4 634.1L1002.4 631.5L1005.3 628.5L1008 625.3L1010.5 622L1013.4 619.1L1016.5 616.3L1019.5 613.5L1023 611.4L1026.5 609.4L1029.7 607L1032.8 604.5L1036.2 602.3L1039.2 599.7L1042.4 597.3L1045.8 595.3L1049.4 593.5L1052.7 591.2L1055.8 588.8L1058.9 586.3L1061.7 583.4L1064.4 580.4L1067.2 577.6L1070.1 575L1073.1 572.3L1076.4 569.9L1079.4 567.3L1082.3 564.5L1084.9 561.5L1087.9 558.9L1090.9 556.1L1093.6 553.2L1096.7 550.5L1099.5 547.7L1102.2 544.7L1105 541.8L1107.8 539L1110.6 536.1L1113.8 533.6L1116.9 531L1119.8 528.2L1122.6 525.3L1125.3 522.4L1128.3 519.7L1131.2 516.9L1134.2 514.2L1137.4 511.9L1140.6 509.4L1143.6 506.8L1146.8 504.4L1149.8 501.7L1152.5 498.7L1155.6 496.2L1158.9 493.8L1161.8 491.1L1165 488.7L1168.2 486.3L1171.5 484L1174.3 481.1L1177.4 478.6L1180.5 476L1184.1 474.1L1187 471.4L1190.2 469L1193.1 466.3L1196.1 463.6L1198.7 460.5L1201.6 457.8L1204.7 455.2L1208 452.9L1210.8 450.1L1214.1 447.7L1216.7 444.7L1219.9 442.2L1222.4 439L1225.3 436.2L1227.8 433.1L1230.8 430.4L1233.3 427.2L1236 424.3L1238.7 421.2L1241.3 418.2L1244 415.2L1246.6 412.1L1249.2 409.1L1251.8 406L1254.6 403.1L1257.4 400.2L1260 397.1L1263 394.4L1266 391.7L1268.8 388.9L1271.3 385.7L1274.3 383.2L1277.2 380.4L1280.4 378L1283.2 375.2L1286.4 372.8L1289.5 370.3L1292.4 367.7L1295.2 364.8L1298.4 362.4L1301.7 360.2L1304.8 357.8L1308 355.3L1311.4 353.3L1314.5 350.8L1317.7 348.4L1320.8 346L1324.1 343.7L1327.4 341.5L1331.1 339.8L1334.5 337.6L1337.9 335.6L1341.5 333.8L1344.9 331.6L1347.9 328.8L1351.1 326.5L1354.4 324.2L1357.6 321.6L1360.7 319.1L1364.4 317.5L1367.9 315.5L1371.5 313.7L1375 311.7L1378.6 309.9L1381.9 307.5L1385.4 305.6L1388.8 303.4L1392.4 301.7L1395.9 299.8L1399.4 297.9L1402.9 295.9L1406.2 293.6L1409.5 291.2L1412.9 289.1L1416.6 287.7L1420 285.5L1423.5 283.6L1427.2 282L1430.9 280.4L1434.4 278.4L1438.1 276.9L1441.7 275.3L1445.3 273.5L1448.9 271.9L1452.5 270.2L1456.1 268.4L1459.8 267L1463.6 265.8L1467.3 264.4L1471 263.1L1474.7 261.6L1478.5 260.6L1482.1 258.9L1485.7 257.3L1489.4 256L1493.2 254.8L1496.8 253.1L1500.6 252.2L1504.4 250.7L1508 248.8L1511.7 247L1515.5 245.5L1519.1 243.3L1522.7 241.3L1526.6 240.1L1530.4 238.9L1534.1 237.5L1537.9 236.7L1541.7 236L1545.4 235.1L1549.2 234.5L1553 233.7L1556.9 233.3L1560.7 232.6L1564.6 232.4L1568.5 231.8L1572.4 231.5L1576.3 230.5L1580.3 230.4L1584.1 229.4L1588.1 229.1L1592.1 228.6L1596.1 228.3L1600.1 228.2L1604.1 228L1608.1 227.5L1612.1 227.1L1616.1 227L1620.1 226.4L1624.1 226.2L1628.2 226L1632.2 225.8L1636.2 225.4L1640.3 225L1644.3 224.7L1648.4 224.4L1652.4 223.8L1656.5 223.8L1660.5 223.6L1664.5 223.3L1668.6 223.3L1672.7 223.5L1676.7 223.1L1680.7 223.2L1684.7 222.7L1688.8 222.5L1692.8 222.1L1696.8 221.8L1700.7 221.1L1704.8 221.2L1708.7 220.7L1712.7 220.3L1716.6 219.9L1720.6 219.7L1724.5 219.1L1728.5 219.1L1732.3 218.1" fill="none" stroke="#0000ff" stroke-width="9.3" stroke-linecap="round" stroke-linejoin="round" />
<path d="M236.5 952.3L241.2 951.9L245.9 951.4L250.7 951.5L255.5 951.1L260.3 950.9L265.1 950.4L270 949.9L274.8 949.1L279.7 948.5L284.5 947.5L289.5 947.6L294.4 947.4L299.4 947.4L304.4 947.4L309.4 947.6L314.3 947.1L319.4 947L324.4 946.5L329.4 946.5L334.5 946.4L339.5 946.3L344.6 945.8L349.7 945.8L354.8 945.7L359.9 945.4L365 945.1L370.1 945.2L375.2 945.5L380.3 944.5L385.5 944.8L390.6 944.8L395.8 944.7L400.9 944.1L406.1 944.4L411.2 944.3L416.3 944L421.5 943.6L426.6 943.5L431.8 943.1L436.9 942.8L442.1 942.6L447.2 942.4L452.3 942.4L457.5 942L462.6 941.3L467.7 941.4L472.8 941.1L477.9 940.9L483 940.8L488.1 940.6L493.2 939.8L498.2 939.4L503.3 938.5L508.3 938L513.3 937.4L518.3 936.9L523.4 936.8L528.4 936.1L533.3 935.2L538.3 934.7L543.3 933.8L548.2 932.8L553.1 932L558 931.4L562.9 930.3L567.6 928.8L572.4 927.6L577.2 926.4L582 925.2L586.7 923.9L591.5 922.8L596.3 921.8L601.2 920.9L605.8 919.4L610.5 918L615.1 916.2L619.7 914.3L624.2 912.3L628.6 910.1L632.9 907.8L637.4 905.8L641.8 903.4L646.2 901.2L650.5 898.9L654.9 896.7L659.3 894.4L663.6 892L667.8 889.6L672.2 887.4L676.4 884.8L680.3 881.7L684.4 879.1L688.3 876.1L692.3 873.2L696.1 870.1L700.4 867.6L704.4 864.8L708.3 861.9L712.3 859L716.6 856.4L720.5 853.4L724.5 850.6L728.6 847.7L732.5 844.7L736.4 841.6L740.2 838.4L743.9 835.1L747.6 831.7L751.1 828.1L754.8 824.8L758.7 821.6L762.3 818.2L765.8 814.6L769.6 811.4L773.2 807.8L776.5 804.1L780.2 800.7L783.8 797.2L787.4 793.7L791.1 790.2L795 787L798.8 783.7L802.7 780.5L806.3 776.9L809.7 773.2L813.2 769.6L816.5 765.7L820.1 762.1L823.9 758.8L827.9 755.7L831.7 752.3L835.6 749L839.1 745.4L842.5 741.6L846.2 738.1L849.7 734.5L853.1 730.7L856.6 727.1L860.5 723.9L864 720.3L867.5 716.6L871.5 713.4L875.2 710L878.7 706.4L882.4 702.9L886.3 699.8L890.1 696.4L893.6 692.9L897.3 689.5L901.2 686.2L904.7 682.6L908.2 679L912.1 675.8L915.6 672.2L919.4 669L923.1 665.6L926.9 662.4L930.6 659L934.5 655.8L938 652.2L941.7 648.9L945 645.1L948.7 641.7L952.4 638.4L956.3 635.2L960.2 632.2L964.3 629.2L968 625.9L971.8 622.7L975.5 619.4L979.1 615.9L982.6 612.4L986.5 609.3L990.1 605.8L994 602.8L997.7 599.4L1001.5 596.2L1005.1 592.8L1008.8 589.5L1012.1 585.7L1015.8 582.3L1019.4 579L1023.1 575.7L1027 572.6L1031 569.6L1034.9 566.5L1038.8 563.4L1042.3 559.9L1045.8 556.3L1049.3 552.8L1052.8 549.3L1056.4 545.9L1060.3 542.8L1063.9 539.4L1067.8 536.3L1071.5 533L1075.1 529.6L1078.6 526.1L1082.6 523L1086.1 519.6L1090.1 516.5L1094 513.5L1098 510.4L1101.5 506.9L1105 503.4L1108.7 500.1L1112.1 496.4L1115.7 493L1119.5 489.7L1122.8 486L1126.3 482.4L1130 479L1133.6 475.6L1137.2 472.1L1141.4 469.2L1144.9 465.6L1148.7 462.3L1152.3 458.8L1156 455.4L1159.9 452.2L1163.7 449L1167.3 445.3L1171.1 442L1174.6 438.4L1178.1 434.8L1182 431.6L1185.8 428.2L1189.5 424.7L1193.3 421.4L1197.1 418L1200.7 414.4L1204.7 411.2L1208.4 407.8L1212.1 404.3L1215.8 400.8L1219.5 397.3L1223.4 394L1227.1 390.4L1231.3 387.5L1235.2 384.2L1238.9 380.7L1242.9 377.5L1247.1 374.5L1250.7 370.9L1254.8 367.8L1259 364.8L1262.6 361.1L1266.7 358L1270.7 354.8L1274.8 351.7L1278.6 348.3L1282.7 345L1286.5 341.6L1290.6 338.5L1294.6 335.2L1298.6 332L1302.8 329L1307 326.1L1311.2 323.2L1315.3 320.3L1319.7 317.9L1323.9 315.2L1328.4 312.9L1332.6 310.5L1337 308.4L1341.3 306.2L1345.9 304.6L1350.1 302.4L1354.5 300.7L1359 299.2L1363.6 298L1368.1 296.6L1372.8 295.9L1377.4 295.2L1382.1 294.6L1386.8 294L1391.5 293.5L1396.2 292.5L1401 292.2L1405.8 291.4L1410.6 290.9L1415.5 290.6L1420.4 290.6L1425.2 289.8L1430.2 289.6L1435.1 289.3L1440.1 289L1445.1 288.6L1450.1 288.6L1455.1 288.4L1460.2 288.2L1465.2 287.9L1470.3 287.5L1475.4 287.2L1480.5 286.9L1485.6 286.6L1490.7 285.8L1495.8 285.8L1500.9 285.1L1506 284.5L1511.1 284L1516.3 283.8L1521.4 282.9L1526.5 282.4L1531.7 282.1L1536.8 281.5L1541.9 280.9L1547 280.9L1552.1 280.4L1557.2 280.1L1562.3 280L1567.4 279.7L1572.5 279L1577.6 279.3L1582.7 278.9L1587.7 278.3L1592.7 278L1597.8 277.9L1602.8 277.4L1607.9 277.1L1612.9 277.3L1617.9 277L1622.9 276.8L1627.9 276.8L1633 276.7L1637.9 276.2L1643 276.4L1647.9 276.3L1652.9 275.9L1657.9 275.6L1662.9 275.8L1667.9 275.4L1672.8 275.3L1677.8 275.4L1682.8 275.5L1687.7 275.3L1692.7 274.8L1697.7 274.5L1702.6 274.2L1707.6 274.3L1712.5 274L1717.5 274.5L1722.4 274.6L1727.4 274.4L1732.3 273.9" fill="none" stroke="#005c00" stroke-width="11" stroke-linecap="round" stroke-linejoin="round" />
<path d="M236.5 953.2L241.2 952.8L245.9 952.4L250.7 952.2L255.5 951.5L260.3 951.2L265.1 951.2L270 950.6L274.8 950.1L279.7 949.7L284.6 949.5L289.5 948.8L294.4 949L299.4 948.7L304.4 948.7L309.3 948.2L314.4 948.2L319.4 947.6L324.4 947.5L329.4 947.2L334.5 947.4L339.5 947.1L344.6 947L349.7 946.8L354.8 946.6L359.9 946.4L365 946.2L370.1 946.1L375.2 945.8L380.4 946L385.5 946L390.6 946.2L395.8 946L400.9 945.7L406 944.9L411.2 944.4L416.3 943.9L421.5 943.6L426.6 943.6L431.8 943.8L436.9 943.3L442.1 943.5L447.2 943.3L452.3 943.1L457.4 942.4L462.6 942.6L467.7 941.7L472.8 941.6L477.9 941.3L483 941.3L488.1 940.8L493.2 940.6L498.2 940.1L503.3 939.7L508.3 939.3L513.4 938.8L518.4 938.8L523.5 938.3L528.4 937.4L533.3 936.3L538.2 935.1L543.1 934L548 933.4L552.9 932.6L557.8 932L562.8 931.5L567.6 930.6L572.4 929.7L577.3 928.8L582.1 927.9L586.9 926.9L591.6 925.5L596.2 923.9L600.8 922.3L605.5 921L610 919.3L614.7 917.9L619.3 916.5L624.1 915.3L628.7 913.5L633.1 911.3L637.4 909L641.9 906.9L646 904.1L650.5 902.1L655 900.1L659.4 897.8L663.6 895.4L667.9 892.9L672 890.1L676.2 887.6L680.4 885L684.5 882.2L688.3 879.1L692.4 876.3L696.6 873.7L700.5 870.6L704.5 867.7L708.8 865.3L712.7 862.1L716.4 858.9L720.4 855.9L724.4 853L728.2 849.7L732.3 846.9L736.1 843.6L739.9 840.4L743.5 836.8L747.3 833.6L750.7 829.8L754.5 826.6L758.3 823.3L762.6 820.5L766.2 816.9L770 813.6L773.7 810.2L777.1 806.4L780.5 802.7L784.5 799.5L788.1 796L791.6 792.3L795.7 789.2L799.2 785.6L802.7 781.9L806.4 778.4L809.9 774.7L813.6 771.3L817.1 767.6L820.7 764L824.2 760.3L827.6 756.5L830.7 752.4L834.3 748.9L837.9 745.3L841.8 741.9L846.1 739.1L850 735.8L853.7 732.4L857.2 728.8L860.9 725.3L864.1 721.3L867.7 717.8L871.5 714.5L875.3 711.1L878.7 707.4L882.5 704.1L886 700.4L889.5 696.8L893.2 693.4L897 690.1L900.6 686.6L904.3 683.1L907.9 679.7L911.7 676.4L915.2 672.8L918.9 669.4L922.9 666.4L926.8 663.2L930.5 659.8L934.3 656.7L938.3 653.6L942 650.2L945.7 646.9L949.6 643.8L953.2 640.2L957.1 637.1L960.8 633.8L964.4 630.3L967.9 626.9L971.9 623.9L975.3 620.1L979 616.8L982.9 613.7L986.6 610.4L990.2 607L994 603.7L997.7 600.4L1001.6 597.3L1005.1 593.8L1009.2 590.9L1013 587.7L1016.7 584.4L1020.1 580.8L1024 577.6L1027.3 573.9L1030.9 570.5L1034.9 567.5L1038.8 564.4L1042.5 561.2L1046 557.6L1049.8 554.4L1053.2 550.8L1056.9 547.4L1060.5 544L1064.2 540.7L1067.9 537.4L1071.5 534L1075.1 530.6L1078.9 527.4L1082.6 524.1L1086.1 520.5L1089.9 517.4L1093.7 514.2L1097.1 510.5L1101 507.4L1104.8 504.1L1108.4 500.7L1112 497.3L1115.6 493.9L1119 490.3L1122.8 487L1126.2 483.3L1129.6 479.7L1133.4 476.4L1137.2 473.2L1140.8 469.8L1144.6 466.5L1148.4 463.3L1152.4 460.2L1156.1 456.9L1159.9 453.6L1163.6 450.2L1167.3 446.8L1170.7 443.1L1174.3 439.6L1177.7 435.9L1181.5 432.6L1185.3 429.3L1189.1 426L1192.9 422.7L1196.7 419.5L1200.6 416.2L1204.5 413.1L1208.6 410L1212.5 406.8L1216.4 403.7L1220.3 400.4L1223.9 396.8L1227.4 393.2L1231.4 390L1235.3 386.8L1239.1 383.4L1243.3 380.5L1247.4 377.5L1251.2 374.1L1255.1 370.9L1258.9 367.4L1262.7 364.1L1266.8 361L1270.7 357.7L1274.6 354.4L1278.7 351.3L1282.4 347.7L1286.3 344.4L1290.5 341.4L1294.8 338.6L1299 335.6L1303.3 332.8L1307.6 330.2L1311.7 327.2L1315.8 324.3L1320 321.5L1324.4 319.1L1328.6 316.5L1332.7 313.9L1336.9 311.4L1341.3 309.3L1345.6 307.1L1350 305.2L1354.5 303.7L1359.1 302.2L1363.6 300.8L1368.1 299.5L1372.7 298.4L1377.3 297.3L1382 296.4L1386.7 295.6L1391.4 294.6L1396.1 293.7L1400.9 293L1405.7 292.1L1410.5 291.6L1415.4 291.2L1420.3 290.9L1425.2 290.7L1430.2 290.8L1435.1 290.4L1440.1 290.3L1445.1 289.9L1450.1 289.6L1455.2 289.6L1460.2 289.5L1465.3 289.5L1470.4 289.3L1475.4 288.6L1480.5 288.1L1485.6 288.1L1490.7 287.3L1495.9 287.2L1501 287L1506.1 286.8L1511.2 285.8L1516.4 285.4L1521.5 284.7L1526.6 284L1531.7 283.3L1536.8 282.9L1541.9 282.7L1547.1 282.2L1552.2 282.1L1557.3 281.6L1562.4 281.6L1567.5 281.2L1572.5 280.9L1577.6 280.2L1582.7 280.2L1587.7 279.5L1592.8 279.2L1597.8 279.1L1602.9 279.3L1607.9 279.1L1612.9 278.9L1617.9 278.7L1623 278.4L1628 278.3L1633 278L1638 277.9L1643 277.7L1648 277.6L1652.9 277.4L1657.9 277.1L1662.9 276.8L1667.9 276.6L1672.8 276.4L1677.8 276.4L1682.8 276.2L1687.8 276.4L1692.7 276.2L1697.7 275.9L1702.6 275.6L1707.6 275.8L1712.5 275.6L1717.5 275.1L1722.4 275.3L1727.4 275.2L1732.3 274.8" fill="none" stroke="#005c00" stroke-width="11" stroke-linecap="round" stroke-linejoin="round" />
<path d="M236.5 954.2L241.1 953L245.9 952.7L250.6 952.1L255.4 951.7L260.2 951.3L265 950.8L269.9 950.3L274.7 949.8L279.6 949.6L284.5 949.8L289.5 949.9L294.4 949.6L299.4 949.6L304.4 949.4L309.3 948.9L314.3 948.6L319.3 948.2L324.3 947.6L329.4 947.6L334.5 947.6L339.5 947.6L344.6 947.6L349.7 947.7L354.8 947.8L359.9 947.7L365 947.6L370.1 947.6L375.2 947.8L380.4 947L385.5 946.8L390.6 946.8L395.8 946.5L400.9 946.2L406.1 946.5L411.2 946.2L416.3 945.9L421.5 945.9L426.6 945.6L431.8 945.2L436.9 945.4L442.1 945.3L447.2 944.9L452.3 944.3L457.5 944.1L462.6 943.5L467.7 943.3L472.8 943.1L477.9 943.1L483 942.7L488.1 942.3L493.2 941.9L498.2 941.3L503.3 940.5L508.3 939.8L513.3 939.4L518.3 938.4L523.3 938L528.3 937.6L533.3 937.2L538.2 936.4L543.2 936.1L548.1 935.6L553 934.8L557.9 934.1L562.8 933.5L567.6 932.5L572.4 931.6L577.2 930.7L582.1 930L586.8 929L591.6 928L596.2 926.7L601 925.6L605.5 924L610.2 922.6L614.8 921L619.4 919.5L623.8 917.6L628.3 915.7L632.7 913.7L637.3 911.8L641.9 910.2L646.3 907.8L650.6 905.5L655 903.2L659.2 900.6L663.4 898L667.8 895.7L672 893.3L676.3 890.7L680.7 888.5L684.7 885.5L688.7 882.6L692.6 879.5L696.5 876.4L700.5 873.5L704.5 870.6L708.4 867.4L712.5 864.6L716.8 862L720.4 858.5L724.3 855.3L728.2 852.2L731.8 848.6L735.4 845.1L739.1 841.7L742.8 838.3L746.7 835.1L750.8 832L754.5 828.6L758.5 825.5L762.3 822.2L766 818.6L769.7 815.2L773.7 812L777.5 808.6L781.3 805.3L785.1 801.8L788.4 797.9L792 794.2L795.3 790.4L799.2 787L802.8 783.4L806.3 779.7L809.9 776L813.5 772.5L816.8 768.5L820.4 764.9L824.3 761.5L827.8 757.8L831.1 754L834.8 750.5L838.5 746.9L841.9 743.2L845.7 739.7L849.5 736.4L852.9 732.6L856.7 729.2L860.4 725.8L863.9 722.1L867.6 718.6L871.7 715.7L875.2 712L878.9 708.5L882.4 705L886.2 701.7L889.7 698L893.3 694.5L897.2 691.3L900.9 687.9L904.6 684.5L908.3 681.1L912.1 677.8L915.7 674.4L919.6 671.2L923.2 667.7L926.9 664.3L930.6 661L934.1 657.4L937.7 653.9L941.5 650.6L945.2 647.3L948.9 643.9L952.9 640.9L956.8 637.8L960.4 634.4L964.2 631.2L967.9 627.8L971.7 624.6L975.5 621.4L979.3 618.2L982.9 614.7L986.8 611.6L990.3 608L993.8 604.5L997.6 601.3L1001.4 598.1L1005.2 594.8L1008.9 591.5L1012.9 588.6L1016.8 585.5L1020.3 582L1023.7 578.3L1027.3 574.9L1030.9 571.5L1034.5 568.1L1038.4 565L1042.4 562L1046.1 558.7L1049.6 555.2L1053.1 551.6L1056.8 548.3L1060.4 544.9L1064.1 541.6L1067.7 538.2L1071.6 535.1L1075.5 532L1079 528.4L1082.8 525.3L1086.5 521.9L1090.2 518.7L1093.8 515.2L1097.6 512L1101.2 508.6L1105 505.4L1108.7 502.1L1112.2 498.5L1115.8 495.1L1119.5 491.8L1123.2 488.4L1126.7 485L1130.5 481.8L1134.4 478.6L1138.1 475.3L1141.6 471.8L1145.1 468.2L1148.8 464.9L1152.5 461.6L1156.2 458.3L1159.9 454.9L1163.7 451.7L1167.4 448.4L1171.2 445.1L1175 441.9L1178.6 438.4L1182.3 435.1L1185.9 431.7L1189.8 428.6L1193.1 424.7L1197.2 421.8L1200.9 418.4L1204.6 415.1L1208.2 411.6L1212.4 408.8L1215.7 404.9L1219.5 401.6L1223.5 398.5L1227.2 395.1L1231 391.9L1235.2 389L1239.2 385.9L1242.8 382.4L1246.8 379.4L1250.6 376L1254.7 373.1L1258.6 369.8L1263 367.2L1266.9 363.9L1271.1 361L1275.2 358L1279.2 354.8L1283 351.5L1287.1 348.4L1290.7 344.8L1294.7 341.5L1298.9 338.6L1303.1 335.7L1307.5 333.1L1311.6 330.3L1315.7 327.3L1320 324.6L1324.2 321.9L1328.3 319.2L1332.7 316.9L1337 314.6L1341.3 312.4L1345.6 310L1349.9 307.8L1354.3 306L1358.8 304.2L1363.3 302.8L1367.9 301.5L1372.6 300.6L1377.4 299.9L1382.1 299.1L1386.7 297.9L1391.5 297.1L1396.2 296.2L1400.9 295.2L1405.7 294.2L1410.5 293.6L1415.4 293.3L1420.3 292.7L1425.2 292.1L1430.2 291.9L1435.1 291.5L1440.1 291.1L1445.1 290.9L1450.1 290.8L1455.1 290.3L1460.2 290L1465.2 289.5L1470.3 289.1L1475.4 288.8L1480.5 288.8L1485.6 288.4L1490.7 288.1L1495.8 288L1501 287.9L1506.1 287.4L1511.2 287L1516.4 286.6L1521.5 286.2L1526.6 285.2L1531.7 284.9L1536.9 284.5L1542 284L1547.1 283.2L1552.2 282.8L1557.3 282.2L1562.3 281.9L1567.4 281.1L1572.5 280.9L1577.6 280.5L1582.6 280.6L1587.7 280.6L1592.8 280.4L1597.8 280.1L1602.9 280.1L1607.9 279.5L1612.9 278.9L1617.9 278.9L1622.9 279L1628 278.9L1633 279.1L1638 279L1643 278.7L1648 278.3L1652.9 278L1657.9 277.5L1662.9 277.6L1667.9 277.7L1672.9 277.6L1677.8 277.6L1682.8 277.4L1687.7 277.1L1692.7 276.8L1697.7 276.7L1702.6 276.5L1707.6 276.2L1712.5 275.9L1717.5 276L1722.4 275.8L1727.3 275.5L1732.3 275.8" fill="none" stroke="#005c00" stroke-width="11" stroke-linecap="round" stroke-linejoin="round" />
<path d="M236.5 955.1L241.2 954.5L245.9 954.2L250.7 953.5L255.5 953.4L260.3 952.9L265.1 952.6L269.9 952L274.8 951.7L279.7 951.6L284.6 951.3L289.5 950.8L294.4 950.6L299.4 950.5L304.3 950L309.3 949.9L314.4 950.2L319.4 949.6L324.4 949.6L329.4 949.4L334.5 948.9L339.5 948.4L344.6 948.5L349.7 948.2L354.8 947.9L359.9 947.8L365 947.6L370.1 947.5L375.2 947.1L380.3 947.2L385.5 947.2L390.6 947L395.8 947L400.9 946.6L406 946.4L411.2 946.2L416.3 946.2L421.5 946.4L426.6 946.5L431.8 946.2L436.9 945.9L442.1 945.6L447.2 945L452.3 944.7L457.4 944.6L462.5 943.8L467.7 943.5L472.8 943.2L477.9 943L483 942.8L488.1 942.9L493.2 942.9L498.3 942.5L503.3 942L508.4 941.6L513.4 941.3L518.4 940.6L523.4 940L528.4 939.6L533.4 938.9L538.3 937.9L543.2 937.4L548.1 936.8L552.9 935.7L557.8 934.8L562.7 934.3L567.6 934L572.4 933.4L577.3 933L582.1 932.6L586.9 931.9L591.6 930.4L596.2 929.2L601 928.2L605.6 926.8L610.3 925.9L615 924.6L619.6 923.1L624 921.2L628.6 919.5L632.9 917.2L637.5 915.5L642.1 913.8L646.5 911.5L650.8 909L655.1 906.6L659.3 904L663.5 901.4L667.8 899L672.2 896.6L676.7 894.4L680.7 891.5L684.6 888.3L688.7 885.6L692.9 882.8L696.6 879.5L700.6 876.5L704.8 873.7L708.6 870.5L712.4 867.2L716.4 864.1L720.2 860.9L724.2 857.8L727.9 854.3L731.9 851.2L735.6 847.8L739.5 844.5L743.1 840.9L746.9 837.6L750.7 834.1L754.4 830.6L758.3 827.3L762.1 823.9L766 820.6L769.7 817.1L773.5 813.6L777.4 810.3L781 806.6L784.4 802.8L788 799.1L791.9 795.7L795.1 791.7L798.7 788L802.6 784.6L806.2 780.9L809.4 776.9L813.3 773.5L817 770L820.4 766.1L823.9 762.3L827.6 758.8L831.1 755L834.8 751.5L838.3 747.8L841.8 744.1L845.5 740.6L849.2 737.1L852.8 733.5L856.3 729.8L860.1 726.5L863.9 723.1L867.5 719.6L871.1 716L875 712.7L878.9 709.5L882.3 705.8L886 702.4L889.6 698.9L893.4 695.6L896.9 692L900.8 688.8L904.5 685.4L908.3 682.1L912 678.8L915.8 675.4L919.4 672L923.3 668.8L926.8 665.2L930.3 661.6L933.8 658L937.5 654.7L941.1 651.2L945.1 648.2L949.1 645.2L953.1 642.1L957 639.1L961 636.1L964.6 632.6L968.2 629.2L971.8 625.7L975.6 622.5L979 618.8L982.7 615.5L986.4 612.1L990.1 608.9L993.6 605.3L997.5 602.1L1001.3 599L1005.2 595.9L1009 592.7L1012.9 589.6L1016.6 586.3L1020.2 582.9L1023.8 579.5L1027.5 576.1L1031.1 572.7L1034.7 569.3L1038.4 566L1042.1 562.6L1045.8 559.3L1049.6 556.1L1053.1 552.6L1056.9 549.4L1060.9 546.5L1064.5 543.1L1068.1 539.6L1071.8 536.3L1075.1 532.5L1078.5 529L1082.1 525.5L1085.7 522.1L1089.5 518.9L1093.7 516.1L1097.4 512.8L1101.3 509.7L1105.1 506.5L1108.7 503.1L1112.1 499.4L1115.8 496.2L1119.4 492.7L1123.1 489.4L1126.9 486.2L1130.6 482.9L1134.1 479.4L1137.7 476L1141.2 472.6L1144.7 469L1148.5 465.9L1152.3 462.7L1156.1 459.5L1159.8 456.2L1163.6 453L1167.1 449.5L1170.8 446.2L1174.5 443L1178.3 439.8L1182.2 436.6L1186.2 433.7L1189.7 430.2L1193.4 426.8L1197.3 423.8L1201.1 420.6L1204.7 417.2L1208.6 414L1212.5 411L1216.1 407.5L1219.6 404L1223.5 400.8L1227.6 398L1231.5 394.8L1235.6 392L1239.6 388.9L1243.5 385.8L1247.4 382.7L1251.4 379.7L1255.2 376.4L1259.3 373.4L1263.2 370.3L1266.9 366.8L1270.7 363.4L1274.5 360.1L1278.4 356.8L1282.4 353.7L1286.6 350.9L1290.8 348L1294.9 344.9L1299 341.9L1302.9 338.6L1307.1 335.8L1311.2 332.8L1315.5 330.2L1319.7 327.5L1324.2 325.1L1328.2 322.3L1332.7 320.1L1336.9 317.6L1341.2 315.3L1345.7 313.3L1350.2 311.6L1354.6 309.6L1359 307.7L1363.6 306.4L1368.2 305.2L1372.8 303.7L1377.4 302.5L1382 301.2L1386.7 300L1391.4 298.7L1396.1 297.9L1400.9 296.9L1405.8 296.5L1410.6 295.7L1415.5 295.1L1420.3 294.2L1425.3 294L1430.2 293.5L1435.1 293L1440.1 292.4L1445.1 291.9L1450.1 291.3L1455.1 290.9L1460.2 290.7L1465.2 290.4L1470.3 290.4L1475.4 290.3L1480.5 289.9L1485.6 289.4L1490.7 289.1L1495.8 288.6L1500.9 288.1L1506.1 287.7L1511.2 287.7L1516.4 287.2L1521.5 286.6L1526.6 286.5L1531.8 285.9L1536.8 284.8L1541.9 284.3L1547.1 284L1552.1 282.9L1557.2 282.5L1562.4 282.9L1567.4 282.6L1572.5 282.3L1577.6 282.4L1582.7 282.1L1587.7 281.3L1592.8 281L1597.8 280.6L1602.8 280.4L1607.9 280.2L1612.9 280.1L1617.9 279.9L1622.9 280L1627.9 279.6L1633 279.4L1638 279.5L1643 279L1647.9 278.8L1652.9 278.5L1657.9 278.5L1662.9 278.1L1667.9 278.2L1672.8 277.7L1677.8 277.6L1682.8 277.8L1687.7 278L1692.7 277.9L1697.7 277.9L1702.6 277.9L1707.6 277.3L1712.5 277L1717.5 277L1722.4 277.5L1727.4 277.3L1732.3 276.7" fill="none" stroke="#005c00" stroke-width="11" stroke-linecap="round" stroke-linejoin="round" />
<path d="M236.5 857.9L241.5 857.7L246.4 856.9L251.4 856.1L256.3 855.2L261.3 854.8L266.3 854.6L271.3 854.1L276.3 853.9L281.3 853.4L286.3 853.4L291.4 853.1L296.4 853.1L301.4 852.5L306.4 852.3L311.5 851.8L316.5 851.8L321.6 851.7L326.6 852L331.7 852L336.7 852.1L341.8 851.5L346.8 851.1L351.9 850.3L356.9 850.2L362 850.2L367.1 850.5L372.2 850.7L377.2 850.7L382.3 849.8L387.3 849.6L392.4 849.2L397.4 848.5L402.5 848.4L407.6 849L412.7 849L417.7 848.9L422.8 848.8L427.9 849L432.9 848.9L437.9 848.1L443 847.9L448 847.7L453.1 847.3L458.1 846.9L463.2 847L468.2 846.2L473.2 846.2L478.2 845.7L483.2 845.4L488.2 844.7L493.2 844.5L498.2 844L503.2 843.8L508.2 843.3L513.2 843.3L518.2 843.4L523.2 843.1L528.2 843L533.1 842.2L538.1 841.8L543 841.1L548 840.7L552.9 840.1L557.8 839.5L562.7 838.3L567.5 837.3L572.3 836.1L577.2 835.3L582 834.3L586.9 833.7L591.8 833.2L596.7 832.4L601.4 830.9L606.2 830.1L611 829.2L615.8 828.1L620.6 827L625.4 826.2L630.3 825.5L635 824.1L639.7 823.1L644.4 821.6L649.2 820.5L653.7 818.5L658.5 817.4L663 815.5L667.6 813.8L672.1 811.9L676.8 810.6L681.3 808.7L685.9 807L690.6 805.4L695.1 803.5L699.6 801.5L704.1 799.6L708.6 797.7L713.2 795.8L717.7 793.7L722.3 791.8L726.8 789.8L731.4 787.9L735.6 785.3L739.9 782.7L744.1 779.9L748.1 777L752.5 774.5L756.9 772.2L761.3 769.8L765.7 767.5L769.8 764.6L773.8 761.4L778 758.8L782.2 755.9L786.4 753.2L790.8 750.8L795.1 748.2L799.2 745.3L803.7 742.9L808 740.3L812.1 737.5L816.3 734.6L820.5 731.9L824.4 728.6L828.5 725.7L832.7 722.9L837 720.3L841.5 717.9L845.7 715.1L849.5 711.9L853.8 709.2L857.7 706L861.5 702.8L865.7 700.1L870 697.4L873.8 694.2L878 691.4L882.3 688.9L886.3 686L890.2 682.9L894.5 680.3L898.7 677.6L902.7 674.7L906.9 672L911.1 669.4L915 666.3L919.1 663.5L923.1 660.5L927 657.5L930.7 654L935 651.5L938.8 648.3L942.8 645.4L947 642.8L951.2 640L955.1 637L959.2 634.1L963.3 631.4L967.1 628.2L971.4 625.6L975.3 622.5L979.1 619.3L982.8 616L986.7 612.8L990.7 609.8L994.8 606.9L998.8 604L1002.9 601.1L1007 598.3L1010.6 594.8L1014.5 591.6L1018.6 588.7L1022.4 585.4L1026.4 582.4L1030.5 579.5L1034.5 576.4L1038.3 573.1L1042.4 570.1L1046.5 567.1L1050.7 564.3L1054.6 561.1L1058.9 558.3L1063.1 555.4L1066.9 552L1070.7 548.6L1075 545.9L1079.2 543L1083.3 539.9L1087.8 537.4L1092.1 534.7L1096.3 531.8L1100.3 528.6L1104.4 525.5L1108.2 522L1112.2 518.8L1116.1 515.5L1120.2 512.4L1124.4 509.5L1128.7 506.7L1132.8 503.7L1137 500.8L1141.3 498L1145.4 495L1149.5 491.9L1153.8 489.2L1157.9 486.2L1162.2 483.3L1166.3 480.3L1170.8 478L1174.8 474.8L1179.2 472.3L1183.3 469.3L1187.8 466.9L1191.7 463.6L1196.2 461.3L1200.4 458.4L1204.9 456.1L1208.9 453L1213.3 450.6L1217.6 448L1222.1 445.7L1226.3 442.9L1230.6 440.4L1234.9 437.9L1239.2 435.3L1243.5 432.9L1248 430.6L1252.5 428.5L1256.9 426.3L1261.6 424.6L1266.1 422.6L1270.5 420.5L1275.2 418.8L1279.6 416.6L1283.9 414.3L1288.4 412.3L1292.9 410.5L1297.3 408.5L1302 407.1L1306.8 406L1311.3 404.4L1316 403.1L1320.7 402.2L1325.2 400.3L1329.7 398.6L1334.4 397.6L1339 396L1343.6 394.5L1348.5 394.2L1353.2 393.2L1357.9 392.1L1362.8 391.9L1367.5 390.7L1372.2 389.7L1377 388.6L1381.8 387.8L1386.5 386.7L1391.4 386.3L1396.2 385.3L1401.1 385.1L1406 384.4L1410.8 383.8L1415.7 383.4L1420.7 383L1425.6 382.7L1430.5 381.9L1435.3 380.8L1440.2 379.7L1445.1 379.1L1450 378L1455 377.6L1460 377.6L1465 377.9L1470 377.3L1475 377.4L1480 376.8L1485 376.7L1489.9 375.6L1495 375.9L1500 375.5L1505.1 376L1510.1 375.6L1515.1 375.7L1520.2 375L1525.2 374.8L1530.2 374.1L1535.3 374.2L1540.4 374.3L1545.4 374.1L1550.5 374.1L1555.6 374.3L1560.6 373.6L1565.7 373.6L1570.8 373.4L1575.9 373.1L1580.9 372.8L1586 372.5L1591.1 372.6L1596.2 373.1L1601.3 372.9L1606.3 372.4L1611.4 372.6L1616.5 372.1L1621.5 371.4L1626.6 371.8L1631.7 372.4L1636.8 372.3L1641.9 372.4L1646.9 372.3L1652 372L1657 371.2L1662.1 371L1667.1 370.8L1672.2 370.6L1677.2 370.5L1682.2 370.3L1687.3 370.2L1692.3 369.6L1697.3 369.6L1702.3 369.2L1707.4 369.3L1712.4 368.9L1717.4 369L1722.4 368.6L1727.3 368.2L1732.3 367.9" fill="none" stroke="#70006c" stroke-width="9.5" stroke-linecap="round" stroke-linejoin="round" />
<path d="M236.5 860.7L241.4 859.9L246.4 859.5L251.4 859L256.3 858.4L261.3 858L266.3 857.9L271.3 857.7L276.4 857.5L281.4 857.2L286.4 856.7L291.4 856.1L296.4 855.6L301.4 855.5L306.4 855.2L311.5 855.1L316.5 855.2L321.6 854.6L326.6 854.1L331.7 853.9L336.7 853.9L341.8 853.6L346.8 853.8L351.9 853.7L357 853.6L362 853.1L367.1 853.1L372.1 852.6L377.2 851.8L382.2 851.4L387.3 851.3L392.4 851.2L397.4 851.5L402.5 851.7L407.6 851.8L412.7 851.6L417.7 851.3L422.8 850.9L427.8 851L432.9 850.8L437.9 851L443 850.9L448.1 850.9L453.1 850.7L458.1 850.2L463.1 849.7L468.2 849.3L473.2 849L478.2 848.5L483.3 848.8L488.3 848.5L493.3 848L498.3 847.7L503.3 847.7L508.3 846.9L513.3 846.9L518.3 846.9L523.2 846.3L528.2 845.2L533.1 844.5L538 844L542.9 842.9L547.8 842.3L552.8 842L557.7 841.4L562.6 840.7L567.6 840.3L572.5 840L577.4 839.3L582.3 838.4L587.1 837.3L591.9 836.1L596.6 834.9L601.4 833.7L606.2 832.8L611.1 832L615.9 830.9L620.6 829.5L625.3 828.1L630 826.7L634.6 825.1L639.4 824L644.2 822.9L649 821.8L653.7 820.6L658.4 819.2L663.1 817.8L667.7 816.1L672.4 814.5L676.9 812.5L681.5 810.9L686 808.9L690.6 807.1L695.1 805.1L699.9 803.6L704.3 801.3L708.9 799.5L713.3 797.1L717.7 794.8L721.9 792L726.3 789.8L730.7 787.5L735.2 785.2L739.7 783.1L743.9 780.4L748.4 778.1L752.7 775.4L756.9 772.7L761 769.9L765.6 767.7L770 765.3L774.1 762.4L778.4 759.7L782.9 757.4L787.1 754.6L791.1 751.5L795.5 748.9L799.6 746L803.7 743L807.8 740.1L812.1 737.5L816.3 734.6L820.9 732.4L825 729.6L829.5 727.1L833.4 723.9L837.5 721L841.4 717.8L845.7 715.2L849.5 711.8L853.8 709.3L858 706.5L862.3 703.9L866.2 700.8L870.5 698.2L874.4 695.1L878.3 691.9L882.2 688.8L886.1 685.7L890.4 683.2L894.5 680.2L898.7 677.6L902.5 674.4L906.5 671.5L910.3 668.3L914.5 665.6L918.7 662.9L922.9 660.2L926.8 657.2L930.9 654.3L934.8 651.3L938.7 648.3L942.7 645.2L946.9 642.7L950.9 639.7L954.9 636.7L959 633.9L963.2 631.2L967.1 628.1L971.3 625.5L975.3 622.5L979.1 619.2L983 616.2L987.2 613.4L990.9 610.1L994.9 607.2L999.1 604.4L1003.1 601.4L1006.7 597.8L1010.7 594.9L1014.7 591.8L1018.5 588.5L1022.6 585.7L1026.9 583.1L1030.8 579.9L1034.9 576.9L1038.9 573.9L1042.7 570.5L1046.7 567.4L1050.9 564.5L1054.7 561.3L1058.9 558.3L1063.2 555.6L1067.1 552.3L1071.2 549.3L1075.5 546.5L1079.4 543.3L1083.5 540.2L1087.6 537.2L1091.9 534.4L1095.7 530.9L1100 528.1L1104 524.9L1108.1 521.9L1112.2 518.8L1116.5 516.1L1120.8 513.3L1124.9 510.3L1129.1 507.4L1133 504L1137.1 500.9L1141 497.6L1145.2 494.7L1149.4 491.8L1153.4 488.6L1157.9 486.2L1162.1 483.3L1166.5 480.8L1170.6 477.8L1175.1 475.4L1179.5 472.9L1183.7 470L1187.6 466.8L1191.9 464.2L1196.2 461.6L1200.2 458.5L1204.8 456.3L1209.2 454L1213.4 451.3L1217.6 448.7L1222 446.3L1226.3 443.7L1230.5 441.1L1235 439L1239.6 437L1244.1 434.9L1248.5 432.7L1253.1 430.9L1257.4 428.6L1261.7 426.1L1266 423.6L1270.4 421.6L1274.9 419.7L1279.5 418L1284 416.1L1288.4 414.1L1292.8 412.1L1297.4 410.4L1301.8 408.4L1306.5 407L1311.1 405.8L1315.9 404.9L1320.5 403.4L1325.3 402.8L1329.9 401.6L1334.5 400.2L1339.1 398.6L1343.8 397.8L1348.5 396.8L1353.3 396L1358.1 395.9L1362.9 395.1L1367.6 394L1372.3 393L1377.1 392L1381.9 391L1386.7 390.6L1391.5 389.4L1396.3 388.6L1401.1 388L1405.9 387L1410.7 385.8L1415.6 385L1420.5 384.1L1425.4 383.5L1430.2 382.8L1435.2 382.6L1440.2 382.4L1445.1 382.1L1450 381.2L1455 380.9L1460 380.5L1465 380.5L1470 380.5L1475 380.5L1480 380.4L1485 380L1490 379.4L1495 378.8L1500 378.5L1505 377.5L1510 377.3L1515.1 377.3L1520.1 377.1L1525.2 376.9L1530.3 377.2L1535.3 377.3L1540.4 377.1L1545.4 376.9L1550.5 376.8L1555.6 376.6L1560.6 375.8L1565.7 375.7L1570.8 375.7L1575.9 376L1580.9 376.1L1586 376.5L1591.1 376.2L1596.2 376.2L1601.2 375.5L1606.3 375.3L1611.4 375.1L1616.5 374.9L1621.6 375.1L1626.6 375.3L1631.7 374.8L1636.8 374.7L1641.8 374.6L1646.9 374.1L1652 373.9L1657 374.3L1662.1 373.6L1667.1 373.3L1672.2 373.3L1677.2 373.3L1682.3 373.4L1687.3 374L1692.3 373.6L1697.4 373.4L1702.4 372.5L1707.4 372.2L1712.3 371.6L1717.4 371.5L1722.4 371.5L1727.4 371.7L1732.3 370.7" fill="none" stroke="#70006c" stroke-width="9.5" stroke-linecap="round" stroke-linejoin="round" />
<path d="M238 773.9L243.1 774.6L248.1 774.2L253.1 773.6L258.1 773.3L263.1 772.9L268 772.1L273 771.5L278.1 771.1L283 770.4L288.1 770.4L293.1 770.4L298.2 770.6L303.2 770.4L308.2 770.4L313.2 769.9L318.2 769.3L323.2 768.7L328.3 768.5L333.3 768.4L338.3 767.8L343.4 768.2L348.4 768.1L353.4 767.6L358.4 767.2L363.5 767.4L368.5 766.5L373.5 766.1L378.5 765.5L383.5 765.2L388.5 764.9L393.6 765L398.6 764.7L403.6 764.5L408.6 764L413.6 763.2L418.6 763.1L423.6 762.6L428.7 762.8L433.7 762.6L438.7 762.2L443.7 761.7L448.7 761.4L453.7 760.8L458.7 760.6L463.7 760.2L468.7 759.8L473.7 759.4L478.7 758.9L483.7 758.3L488.7 758L493.6 757.2L498.6 756.9L503.6 756.5L508.6 756.1L513.5 754.9L518.5 755L523.4 753.9L528.4 753.2L533.3 752.4L538.4 752.7L543.2 751.4L548.2 751.1L553.1 750.4L558.1 750.1L563 749.3L568 749.2L573 748.5L577.9 747.9L582.8 746.9L587.7 746.2L592.6 745.2L597.4 744.2L602.3 743.4L607.3 742.9L612.2 742.5L617.2 742L622.1 741.3L627 740.4L631.8 739.4L636.6 738.2L641.4 737L646.3 736.1L651.2 735.3L656 734.3L660.8 733.1L665.6 731.9L670.4 730.6L675.2 729.7L680 728.6L684.7 727L689.5 726.1L694.4 725.3L699.2 724.1L704 722.9L708.8 721.8L713.5 720.2L718.1 718.6L722.9 717.4L727.7 716.1L732.5 714.9L737.2 713.5L741.9 712.1L746.5 710.3L751.4 709.1L756.1 707.8L760.9 706.4L765.7 705.2L770.6 704.2L775.1 702.2L779.7 700.3L784.5 698.9L789 696.8L793.5 694.8L798.1 692.9L802.8 691.3L807.4 689.3L812 687.4L816.5 685.2L821.3 683.8L825.9 682L830.6 680.4L835.4 678.9L840.1 677.2L844.7 675.3L849.3 673.3L853.8 671.1L858.4 669.1L863 667.1L867.5 664.9L872.2 663.1L876.8 661.2L881.5 659.4L886.1 657.2L890.9 655.8L895.5 653.6L900.1 651.7L904.6 649.4L909.1 647.1L913.5 644.5L918.1 642.6L922.8 640.6L927.3 638.3L932.1 636.8L936.8 634.9L941.3 632.4L945.8 630.3L950.4 628.2L954.7 625.5L959.3 623.2L963.9 621.2L968.3 618.6L972.8 616.2L977.4 614.2L982.1 612.2L986.6 609.9L991.1 607.6L995.7 605.4L1000.4 603.6L1005 601.5L1009.6 599.3L1014.2 597.2L1018.9 595.5L1023.5 593.3L1027.9 590.8L1032.6 589L1037.4 587.4L1041.9 585L1046.4 582.7L1051.1 580.8L1055.7 578.7L1060.2 576.4L1064.7 574.2L1069.4 572.3L1074 570.5L1078.5 568.2L1083.1 566L1087.8 564.2L1092.5 562.6L1097.1 560.5L1101.7 558.6L1106.6 557.1L1111.3 555.6L1115.8 553.3L1120.5 551.6L1125.3 550L1129.9 548.1L1134.4 546L1139.1 544.4L1143.7 542.4L1148.4 540.6L1153.1 538.9L1157.8 537.2L1162.4 535.4L1167 533.5L1171.7 531.8L1176.4 530L1181.1 528.3L1185.9 527.1L1190.8 525.9L1195.5 524.2L1200.2 522.7L1204.8 520.8L1209.4 518.8L1214.1 517.2L1218.9 515.8L1223.6 514.3L1228.5 513.3L1233.3 511.9L1238 510.4L1242.8 508.9L1247.4 507.1L1252.1 505.3L1256.8 503.9L1261.7 502.8L1266.4 501.5L1271.2 500.2L1276.1 499.2L1280.9 498.1L1285.7 496.7L1290.5 495.6L1295.4 494.6L1300.2 493.5L1305 492.3L1309.8 490.9L1314.6 489.6L1319.4 488.6L1324.3 487.7L1329.1 486.5L1334 485.6L1338.8 484.2L1343.5 482.9L1348.2 481.1L1353.1 480.2L1358 479.4L1362.9 478.5L1367.9 478L1372.8 477.6L1377.7 476.6L1382.6 475.6L1387.5 474.8L1392.3 473.8L1397.2 473L1402.1 472.1L1407 471.4L1412 470.9L1416.9 470L1421.8 469.2L1426.8 469L1431.7 468.3L1436.7 468L1441.7 467.9L1446.7 467.5L1451.6 466.8L1456.6 466.4L1461.5 465.5L1466.5 464.6L1471.4 464L1476.4 463.8L1481.4 463.4L1486.4 463.3L1491.4 462.6L1496.4 462.4L1501.4 462L1506.4 461.3L1511.4 461.3L1516.4 461.5L1521.5 461.6L1526.5 461.3L1531.5 460.9L1536.5 460.5L1541.5 460.1L1546.5 459.5L1551.5 459.3L1556.5 459.2L1561.5 458.9L1566.6 458.4L1571.6 458.4L1576.6 458.1L1581.6 458.2L1586.7 457.8L1591.7 457.9L1596.7 457.5L1601.7 456.7L1606.8 456.7L1611.8 456.6L1616.8 456.5L1621.8 456.3L1626.9 456.7L1631.9 456.6L1637 456.5L1642 455.9L1647 455.7L1652 455.5L1657 455.2L1662.1 455.1L1667.1 455.3L1672.1 455.6L1677.2 454.9L1682.2 454.8L1687.2 454.7L1692.2 454.1L1697.2 453.6L1702.3 454L1707.3 453.8L1712.3 453.3L1717.3 453.5L1722.3 453.3L1727.3 452.7L1732.3 452.6" fill="none" stroke="#6a0000" stroke-width="9.8" stroke-linecap="round" stroke-linejoin="round" />
<path d="M238 776.7L243 776.2L248 776L253 775.7L258 775.8L263 775.3L268.1 775.1L273.1 774.9L278.1 774.6L283.1 774.1L288.1 773.8L293.1 773.4L298.1 773.1L303.2 772.9L308.2 772.7L313.2 772.6L318.2 772.3L323.2 771.7L328.3 771.6L333.3 771L338.3 771L343.3 770.3L348.3 770L353.3 769.3L358.4 769.6L363.4 768.7L368.4 768.9L373.5 769L378.5 768.8L383.5 768.3L388.6 768.2L393.6 767.8L398.6 767.2L403.6 766.7L408.6 766.3L413.6 765.7L418.6 765.3L423.6 765.1L428.6 764.9L433.6 764.5L438.7 764.2L443.7 763.9L448.7 763.6L453.7 763.4L458.7 763.4L463.7 763.3L468.7 762.8L473.7 762.5L478.7 761.8L483.7 761.3L488.7 760.6L493.6 759.9L498.6 759.5L503.6 759.7L508.6 759.3L513.6 758.5L518.5 757.9L523.5 757.2L528.4 756.3L533.3 755.3L538.3 754.9L543.3 754.4L548.2 753.7L553.1 752.6L558 751.8L562.9 751.3L567.9 751.2L572.9 750.7L577.9 750.6L582.9 750.4L587.8 749.9L592.7 748.7L597.6 747.9L602.5 746.9L607.3 745.7L612.2 744.7L617.1 743.9L621.9 742.7L626.7 741.5L631.6 740.6L636.5 739.8L641.4 739L646.3 738.5L651.3 737.9L656.1 736.9L660.9 735.6L665.6 734L670.3 732.1L675 730.8L679.9 729.8L684.7 728.7L689.7 728.1L694.7 727.7L699.5 726.6L704.3 725.2L709.1 724.2L713.9 722.8L718.5 720.9L723.2 719.4L728 718.2L732.6 716.3L737.4 714.9L742.2 713.6L746.9 712.1L751.5 710.3L756.3 708.9L760.9 707L765.7 705.7L770.3 703.9L775.1 702.4L779.8 700.8L784.4 699L789 697.1L793.6 695.1L798.1 693L802.7 691L807.2 689L811.8 686.9L816.5 685.3L821.2 683.6L825.8 681.7L830.5 680L835.2 678.3L839.8 676.5L844.3 674.2L849 672.6L853.8 671.1L858.4 669.1L863.1 667.4L867.9 665.7L872.5 663.9L877.1 661.7L881.6 659.6L886.2 657.5L890.9 655.7L895.3 653.2L899.8 651L904.4 649L908.9 646.7L913.5 644.6L918.1 642.5L922.5 640.1L927.1 638L931.8 636L936.4 633.9L940.8 631.6L945.6 629.7L950.1 627.6L954.6 625.2L959.1 622.8L964 621.3L968.6 619.2L973.1 616.9L977.7 614.8L982.5 613.1L986.9 610.5L991.4 608.3L995.9 605.9L1000.5 603.8L1005.1 601.8L1009.7 599.6L1014.3 597.6L1019 595.7L1023.7 593.8L1028.1 591.2L1032.7 589.2L1037.4 587.3L1041.9 584.9L1046.5 582.8L1051.2 581L1055.6 578.6L1060.3 576.6L1064.9 574.6L1069.4 572.4L1073.8 569.9L1078.6 568.2L1083 565.7L1087.6 563.8L1092.4 562.2L1097.1 560.5L1101.7 558.5L1106.5 556.9L1111.2 555.2L1115.7 553L1120.4 551.3L1125.1 549.7L1129.7 547.7L1134.3 545.6L1138.8 543.5L1143.5 541.7L1148.1 539.8L1152.8 538.1L1157.5 536.4L1162.4 535.4L1167 533.5L1171.7 531.8L1176.5 530.4L1181.3 529.2L1185.9 527.3L1190.7 525.9L1195.4 524.5L1200.2 523L1204.7 520.9L1209.5 519.5L1214.1 517.9L1218.9 516.5L1223.7 515.3L1228.5 513.9L1233.1 512.2L1237.9 511.1L1242.7 509.8L1247.5 508.5L1252.3 507.2L1257.1 506.2L1261.9 504.9L1266.6 503.5L1271.3 502L1276.1 500.7L1280.9 499.7L1285.8 498.9L1290.5 497.4L1295.4 496.6L1300.3 495.7L1305.1 494.3L1309.8 492.9L1314.7 492.2L1319.4 490.6L1324.2 489.4L1329.1 488.8L1333.9 487.7L1338.6 486L1343.5 485L1348.4 484.4L1353.1 482.6L1358 481.8L1363 481.4L1367.9 480.7L1372.7 479.5L1377.6 478.6L1382.5 478.2L1387.4 477.2L1392.3 476.7L1397.3 476.3L1402.3 476L1407.1 474.8L1412.1 474.5L1417.1 474L1422 473.3L1426.9 472.6L1431.9 472.1L1436.7 471L1441.7 470.3L1446.6 469.7L1451.6 469.3L1456.6 468.7L1461.5 468.3L1466.5 467.4L1471.4 466.7L1476.4 466.5L1481.4 466.3L1486.4 466.1L1491.5 465.9L1496.4 465.5L1501.4 464.8L1506.4 464.2L1511.4 464.2L1516.4 463.9L1521.4 463.7L1526.5 463.7L1531.5 463.7L1536.5 463.4L1541.5 463L1546.5 462.6L1551.5 462.3L1556.5 462L1561.5 461.4L1566.6 461.6L1571.6 461.6L1576.6 461L1581.6 460.5L1586.6 460.2L1591.7 459.8L1596.7 459.6L1601.7 459.5L1606.8 459.4L1611.8 459.4L1616.8 459L1621.8 458.7L1626.9 458.3L1631.9 458.6L1636.9 458.3L1642 458.5L1647 458.2L1652 458.2L1657 458.1L1662.1 458L1667.1 458L1672.1 458.1L1677.2 457.6L1682.2 457.1L1687.2 457L1692.2 456.5L1697.2 456.5L1702.2 456.6L1707.3 456.7L1712.3 456.7L1717.3 456.5L1722.3 456L1727.3 455.9L1732.3 455.4" fill="none" stroke="#6a0000" stroke-width="9.8" stroke-linecap="round" stroke-linejoin="round" />
<line x1="1682" y1="531.5" x2="1568" y2="481" stroke="#5a0000" stroke-width="2.2" stroke-linecap="butt"/>
<path d="M1558 476.5 L1585 481 L1577 494.5 Z" fill="#5a0000"/></g>
<g><rect x="1143.7" y="623.7" width="598.6" height="456.6" fill="#fff" stroke="#000" stroke-width="4.6"/>
<line x1="1143.7" y1="708.7" x2="1163.7" y2="708.7" stroke="#000" stroke-width="3.2" stroke-linecap="butt"/>
<line x1="1143.7" y1="794.2" x2="1155.7" y2="794.2" stroke="#000" stroke-width="3.2" stroke-linecap="butt"/>
<line x1="1143.7" y1="879.3" x2="1163.7" y2="879.3" stroke="#000" stroke-width="3.2" stroke-linecap="butt"/>
<line x1="1143.7" y1="964" x2="1155.7" y2="964" stroke="#000" stroke-width="3.2" stroke-linecap="butt"/>
<line x1="1143.7" y1="1048.7" x2="1163.7" y2="1048.7" stroke="#000" stroke-width="3.2" stroke-linecap="butt"/>
<line x1="1193.7" y1="1080.3" x2="1193.7" y2="1074.3" stroke="#000" stroke-width="3" stroke-linecap="butt"/>
<line x1="1242.8" y1="1080.3" x2="1242.8" y2="1069.3" stroke="#000" stroke-width="3" stroke-linecap="butt"/>
<line x1="1291.8" y1="1080.3" x2="1291.8" y2="1074.3" stroke="#000" stroke-width="3" stroke-linecap="butt"/>
<line x1="1340.8" y1="1080.3" x2="1340.8" y2="1069.3" stroke="#000" stroke-width="3" stroke-linecap="butt"/>
<line x1="1389.9" y1="1080.3" x2="1389.9" y2="1074.3" stroke="#000" stroke-width="3" stroke-linecap="butt"/>
<line x1="1438.9" y1="1080.3" x2="1438.9" y2="1069.3" stroke="#000" stroke-width="3" stroke-linecap="butt"/>
<line x1="1487.9" y1="1080.3" x2="1487.9" y2="1074.3" stroke="#000" stroke-width="3" stroke-linecap="butt"/>
<line x1="1536.9" y1="1080.3" x2="1536.9" y2="1069.3" stroke="#000" stroke-width="3" stroke-linecap="butt"/>
<line x1="1586" y1="1080.3" x2="1586" y2="1074.3" stroke="#000" stroke-width="3" stroke-linecap="butt"/>
<line x1="1635" y1="1080.3" x2="1635" y2="1069.3" stroke="#000" stroke-width="3" stroke-linecap="butt"/>
<line x1="1684" y1="1080.3" x2="1684" y2="1074.3" stroke="#000" stroke-width="3" stroke-linecap="butt"/>
<line x1="1733.1" y1="1080.3" x2="1733.1" y2="1069.3" stroke="#000" stroke-width="3" stroke-linecap="butt"/>
<path d="M1163 668.7L1163 672.7L1163 676.7L1163 680.7L1163 684.8L1163 688.8L1163 692.8L1163 696.8L1163 700.8L1163 704.8L1163.1 708.8L1163.2 712.9L1163.4 716.9L1163.6 720.9L1163.7 724.9L1163.9 728.9L1164.2 732.9L1164.5 736.9L1164.9 740.9L1165.3 744.9L1165.7 748.9L1166.1 752.9L1166.6 757L1167.1 761L1167.7 765L1168.3 769L1169 772.9L1169.8 776.8L1170.8 780.5L1172.2 784.2L1174 787.9L1176 791.5L1178.1 795L1180.1 798.4L1182.2 801.8L1184.5 805.1L1186.8 808.4L1189.2 811.7L1191.6 814.9L1194.1 818.1L1196.5 821.3L1198.8 824.5L1201.2 827.8L1203.5 831.1L1205.9 834.4L1208.2 837.6L1210.6 840.8L1213.1 844L1215.6 847.1L1218.2 850.1L1220.9 853.1L1223.6 856.1L1226.4 859L1229.3 861.8L1232.2 864.6L1235.3 867.2L1238.3 869.8L1241.6 872.1L1244.9 874.3L1248.3 876.5L1251.6 878.8L1255 881L1258.4 883.2L1261.7 885.3L1265.1 887.5L1268.5 889.7L1271.9 891.9L1275.3 894L1278.6 896.2L1281.9 898.5L1285.3 900.7L1288.6 903L1291.8 905.3L1295.1 907.7L1298.4 910L1301.6 912.4L1304.9 914.7L1308.2 917L1311.5 919.2L1314.9 921.5L1318.2 923.6L1321.6 925.8L1325 927.9L1328.4 930L1331.9 932.1L1335.3 934.2L1338.8 936.2L1342.3 938.2L1345.8 940.2L1349.3 942.1L1352.8 944L1356.3 945.9L1359.9 947.8L1363.5 949.6L1367.1 951.4L1370.7 953.1L1374.3 954.9L1377.9 956.6L1381.6 958.4L1385.2 960.1L1388.8 961.8L1392.5 963.4L1396.1 965.1L1399.8 966.8L1403.5 968.4L1407.1 970L1410.8 971.6L1414.5 973.2L1418.2 974.8L1421.9 976.3L1425.6 977.8L1429.3 979.3L1433.1 980.8L1436.8 982.3L1440.5 983.8L1444.3 985.2L1448 986.6L1451.8 988L1455.6 989.4L1459.3 990.8L1463.1 992.2L1466.9 993.5L1470.7 994.8L1474.5 996.1L1478.3 997.4L1482.1 998.6L1486 999.9L1489.8 1001L1493.6 1002.2L1497.5 1003.4L1501.3 1004.5L1505.2 1005.6L1509 1006.7L1512.9 1007.9L1516.7 1009L1520.6 1010.2L1524.4 1011.3L1528.3 1012.5L1532.1 1013.7L1536 1014.8L1539.8 1016L1543.7 1017.1L1547.5 1018.3L1551.4 1019.4L1555.2 1020.5L1559.1 1021.6L1562.9 1022.7L1566.8 1023.7L1570.7 1024.8L1574.6 1025.9L1578.4 1026.9L1582.3 1028L1586.2 1029.1L1590 1030.1L1593.9 1031.2L1597.8 1032.2L1601.7 1033.3L1605.5 1034.3L1609.4 1035.4L1613.3 1036.4L1617.2 1037.4L1621.1 1038.4L1625 1039.4L1628.9 1040.4L1632.8 1041.4L1636.7 1042.3L1640.6 1043.3L1644.5 1044.2L1648.4 1045.1L1652.3 1046.1L1656.2 1047L1660.1 1047.9L1664 1048.8L1667.9 1049.7L1671.8 1050.5L1675.8 1051.4L1679.7 1052.2L1683.6 1053L1687.6 1053.7L1691.5 1054.5L1695.5 1055.2L1699.4 1055.9L1703.4 1056.6L1707.3 1057.2L1711.3 1057.9L1715.3 1058.6L1719.2 1059.3L1723.2 1060L1727.1 1060.7L1731.1 1061.4L1735 1062L1739 1062.7" fill="none" stroke="#000000" stroke-width="8.5" stroke-linecap="round" stroke-linejoin="round" />
<text x="1124.5" y="721.9" font-size="41" text-anchor="end" fill="#000" stroke="#000" stroke-width="0.50">0.03</text>
<text x="1124.5" y="892.5" font-size="41" text-anchor="end" fill="#000" stroke="#000" stroke-width="0.50">0.02</text>
<text x="1124.5" y="1061.9" font-size="41" text-anchor="end" fill="#000" stroke="#000" stroke-width="0.50">0.01</text>
<text x="1144.7" y="1125" font-size="41" text-anchor="middle" fill="#000" stroke="#000" stroke-width="0.50">0</text>
<text x="1242.8" y="1125" font-size="41" text-anchor="middle" fill="#000" stroke="#000" stroke-width="0.50">50</text>
<text x="1340.8" y="1125" font-size="41" text-anchor="middle" fill="#000" stroke="#000" stroke-width="0.50">100</text>
<text x="1438.8" y="1125" font-size="41" text-anchor="middle" fill="#000" stroke="#000" stroke-width="0.50">150</text>
<text x="1536.9" y="1125" font-size="41" text-anchor="middle" fill="#000" stroke="#000" stroke-width="0.50">200</text>
<text x="1635" y="1125" font-size="41" text-anchor="middle" fill="#000" stroke="#000" stroke-width="0.50">250</text>
<text x="1733" y="1125" font-size="41" text-anchor="middle" fill="#000" stroke="#000" stroke-width="0.50">300</text>
<text x="1386" y="1158.5" font-size="40" stroke="#000" stroke-width="0.5"><tspan font-style="italic">T</tspan> (K)</text>
<text transform="translate(1044,874) rotate(-90)" font-size="42" text-anchor="middle" stroke="#000" stroke-width="0.5"><tspan font-style="italic">ρ</tspan> (Ohm cm)</text></g>
<g><line x1="191" y1="51" x2="191" y2="1177" stroke="#000" stroke-width="5.7" stroke-linecap="butt"/>
<line x1="1777.9" y1="51" x2="1777.9" y2="1177" stroke="#000" stroke-width="4.9" stroke-linecap="butt"/>
<line x1="188.2" y1="53.5" x2="1780.4" y2="53.5" stroke="#000" stroke-width="5" stroke-linecap="butt"/>
<line x1="188.2" y1="1175" x2="1780.4" y2="1175" stroke="#000" stroke-width="3.9" stroke-linecap="butt"/>
<line x1="191" y1="1080.8" x2="201.5" y2="1080.8" stroke="#000" stroke-width="4.2" stroke-linecap="butt"/>
<line x1="191" y1="987.4" x2="212" y2="987.4" stroke="#000" stroke-width="4.6" stroke-linecap="butt"/>
<line x1="191" y1="894" x2="201.5" y2="894" stroke="#000" stroke-width="4.2" stroke-linecap="butt"/>
<line x1="191" y1="800.6" x2="212" y2="800.6" stroke="#000" stroke-width="4.6" stroke-linecap="butt"/>
<line x1="191" y1="707.2" x2="201.5" y2="707.2" stroke="#000" stroke-width="4.2" stroke-linecap="butt"/>
<line x1="191" y1="520.4" x2="201.5" y2="520.4" stroke="#000" stroke-width="4.2" stroke-linecap="butt"/>
<line x1="191" y1="427" x2="212" y2="427" stroke="#000" stroke-width="4.6" stroke-linecap="butt"/>
<line x1="191" y1="333.6" x2="201.5" y2="333.6" stroke="#000" stroke-width="4.2" stroke-linecap="butt"/>
<line x1="191" y1="240.2" x2="212" y2="240.2" stroke="#000" stroke-width="4.6" stroke-linecap="butt"/>
<line x1="191" y1="146.8" x2="201.5" y2="146.8" stroke="#000" stroke-width="4.2" stroke-linecap="butt"/>
<line x1="339.8" y1="1175" x2="339.8" y2="1155" stroke="#000" stroke-width="4.9" stroke-linecap="butt"/>
<line x1="500.8" y1="1175" x2="500.8" y2="1164" stroke="#000" stroke-width="4.4" stroke-linecap="butt"/>
<line x1="661.9" y1="1175" x2="661.9" y2="1155" stroke="#000" stroke-width="4.9" stroke-linecap="butt"/>
<line x1="823" y1="1175" x2="823" y2="1164" stroke="#000" stroke-width="4.4" stroke-linecap="butt"/>
<line x1="1145" y1="1175" x2="1145" y2="1164" stroke="#000" stroke-width="4.4" stroke-linecap="butt"/>
<line x1="1306.1" y1="1175" x2="1306.1" y2="1155" stroke="#000" stroke-width="4.9" stroke-linecap="butt"/>
<line x1="1467.2" y1="1175" x2="1467.2" y2="1164" stroke="#000" stroke-width="4.4" stroke-linecap="butt"/>
<line x1="1628.2" y1="1175" x2="1628.2" y2="1155" stroke="#000" stroke-width="4.9" stroke-linecap="butt"/>
<text x="170" y="70.9" font-size="61" text-anchor="end" fill="#000" stroke="#000" stroke-width="0.35">6</text>
<text x="170" y="257.7" font-size="61" text-anchor="end" fill="#000" stroke="#000" stroke-width="0.35">4</text>
<text x="170" y="444.5" font-size="61" text-anchor="end" fill="#000" stroke="#000" stroke-width="0.35">2</text>
<text x="170" y="631.3" font-size="61" text-anchor="end" fill="#000" stroke="#000" stroke-width="0.35">0</text>
<text x="170" y="818.1" font-size="61" text-anchor="end" fill="#000" stroke="#000" stroke-width="0.35">-2</text>
<text x="170" y="1004.9" font-size="61" text-anchor="end" fill="#000" stroke="#000" stroke-width="0.35">-4</text>
<text x="170" y="1191.7" font-size="61" text-anchor="end" fill="#000" stroke="#000" stroke-width="0.35">-6</text>
<text x="339.3" y="1242.5" font-size="61" text-anchor="middle" fill="#000" stroke="#000" stroke-width="0.35">-0.30</text>
<text x="661.4" y="1242.5" font-size="61" text-anchor="middle" fill="#000" stroke="#000" stroke-width="0.35">-0.15</text>
<text x="983.5" y="1242.5" font-size="61" text-anchor="middle" fill="#000" stroke="#000" stroke-width="0.35">0.00</text>
<text x="1305.6" y="1242.5" font-size="61" text-anchor="middle" fill="#000" stroke="#000" stroke-width="0.35">0.15</text>
<text x="1627.7" y="1242.5" font-size="61" text-anchor="middle" fill="#000" stroke="#000" stroke-width="0.35">0.30</text>
<text x="986.5" y="1308" font-size="60" text-anchor="middle" stroke="#000" stroke-width="0.35"><tspan font-style="italic">B</tspan> (T)</text>
<text transform="translate(75,641) rotate(-90)" font-size="62" text-anchor="middle" stroke="#000" stroke-width="0.35"><tspan font-style="italic">R</tspan><tspan font-size="36" dy="22">H</tspan><tspan dy="-22"> (Ohm)</tspan></text>
<text x="208.5" y="130" font-size="79" text-anchor="start" fill="#000" stroke="#000" stroke-width="0.30">(a)</text>
<text transform="translate(1230.3,136) scale(1,1.105)" font-size="60" fill="#000" stroke="#000" stroke-width="0.45">10 K</text>
<text transform="translate(1613,200.5) scale(1,1.085)" font-size="60" fill="#0000a8" stroke="#0000a8" stroke-width="0.45">35 K</text>
<text transform="translate(1563,339) scale(1,1.085)" font-size="60" fill="#006020" stroke="#006020" stroke-width="0.45">75 K</text>
<text transform="translate(1533.5,432) scale(1,1.085)" font-size="60" fill="#580058" stroke="#580058" stroke-width="0.45">150 K</text>
<text transform="translate(1585,586) scale(1,1.085)" font-size="60" fill="#5a0000" stroke="#5a0000" stroke-width="0.45">250 K</text>
<text transform="translate(1308,587) scale(1,1.085)" font-size="60" fill="#e00000" stroke="#e00000" stroke-width="0.45">300 K</text></g>
<g><line x1="196.3" y1="1495.8" x2="1784.5" y2="1495.8" stroke="#000" stroke-width="2.7" stroke-linecap="butt"/>
<line x1="989.8" y1="1344.8" x2="989.8" y2="2467.6" stroke="#000" stroke-width="4.9" stroke-linecap="butt"/>
<path d="M213.5 1594L219.5 1593.6L225.5 1593.3L231.5 1592.8L237.4 1592.4L243.4 1592.2L249.4 1591.5L255.4 1590.9L261.3 1590.3L267.3 1590L273.3 1589.5L279.3 1589.3L285.3 1589.1L291.3 1588.6L297.2 1588L303.2 1587.3L309.2 1586.5L315.1 1585.7L321.1 1585.1L327 1584.4L333 1584.2L339 1583.4L345 1583L351 1582.5L356.9 1581.9L362.9 1581.1L368.9 1580.7L374.9 1580.4L380.8 1579.7L386.8 1579.1L392.8 1578.6L398.8 1578L404.7 1577.2L410.7 1576.4L416.6 1575.6L422.5 1574.4L428.4 1573.5L434.4 1572.5L440.4 1571.9L446.3 1571.2L452.3 1570.6L458.2 1569.7L464.2 1569.1L470.2 1568.5L476.2 1568L482.2 1567.6L488.2 1567.1L494.1 1565.9L500 1564.5L505.9 1563.3L511.8 1562L517.7 1561.3L523.7 1560.5L529.6 1559.7L535.6 1559.1L541.6 1558.6L547.5 1557.4L553.5 1556.8L559.5 1555.9L565.4 1554.9L571.3 1553.4L577.2 1552.5L583.1 1551.5L589.1 1550.9L595.1 1550.2L601.1 1549.5L607.1 1548.9L613.1 1548L619 1547L624.9 1545.9L630.9 1545.2L636.8 1544.1L642.8 1543L648.7 1542L654.6 1540.7L660.5 1539.4L666.4 1538.2L672.4 1537.3L678.3 1536.1L684.2 1535.2L690.1 1533.9L696.1 1533.1L702 1531.8L708 1531L714 1530.2L720 1529.7L726 1528.8L732 1528.1L737.9 1527.2L743.9 1526.3L749.8 1525.1L755.7 1523.6L761.6 1522.4L767.5 1521.2L773.4 1520.1L779.3 1518.9L785.3 1518.1L791.2 1516.9L797.2 1516L803.1 1514.9L809 1513.9L815 1513L820.9 1512L826.8 1510.7L832.7 1509.6L838.6 1508.7L844.5 1507.6L850.5 1506.9L856.4 1506.1L862.4 1505.3L868.3 1504.4L874.2 1503.4L880.1 1502.4L886.1 1502.1L892.1 1501.6L898 1501.4L904 1500.9L909.9 1500.3L915.8 1499.5L921.7 1498.7L927.7 1498L933.6 1497.8L939.5 1497.4L945.5 1497.3L951.4 1497.2L957.4 1496.8L963.3 1496.6L969.2 1496.3L975.1 1495.7L981.1 1495.3L987 1495.4L992.9 1495.3L998.9 1495.4L1004.8 1495.7L1010.7 1496L1016.7 1496.2L1022.6 1496.4L1028.5 1496.6L1034.5 1496.8L1040.4 1496.9L1046.4 1496.9L1052.3 1497.2L1058.2 1497.8L1064.2 1498.4L1070.1 1499.1L1076 1500.1L1081.9 1500.7L1087.8 1501.5L1093.8 1502L1099.7 1502.6L1105.7 1503.1L1111.6 1503.8L1117.6 1504.6L1123.5 1505.3L1129.5 1506L1135.4 1507.1L1141.3 1507.9L1147.3 1508.5L1153.2 1509.7L1159.1 1510.9L1165 1511.9L1170.9 1513.3L1176.8 1514.6L1182.7 1515.8L1188.7 1516.5L1194.6 1517.4L1200.6 1518.3L1206.6 1519.1L1212.6 1520L1218.5 1521.3L1224.4 1522.3L1230.5 1523L1236.3 1524.5L1242.3 1525.3L1248.2 1526.7L1254.2 1527.7L1260.1 1529L1266 1530.2L1272 1531.2L1277.9 1532.3L1283.8 1533.8L1289.7 1535.4L1295.6 1536.6L1301.5 1538.1L1307.4 1539.1L1313.4 1540L1319.4 1540.6L1325.4 1541.8L1331.4 1542.6L1337.3 1543.6L1343.3 1544.7L1349.2 1546L1355.2 1546.6L1361.1 1548L1367 1549.3L1372.9 1550.3L1378.9 1551.2L1384.7 1552.6L1390.7 1553.3L1396.7 1554.1L1402.6 1555.1L1408.6 1556.2L1414.6 1556.8L1420.5 1557.9L1426.4 1558.8L1432.4 1559.7L1438.4 1560.4L1444.3 1561.5L1450.2 1562.6L1456.2 1563.3L1462.1 1564.3L1468.1 1565L1474 1565.7L1480 1566.3L1486 1567L1491.9 1567.6L1497.8 1568.7L1503.8 1569.6L1509.7 1570.4L1515.7 1571.3L1521.6 1572.1L1527.6 1572.4L1533.6 1572.9L1539.6 1573.6L1545.5 1574.2L1551.5 1574.7L1557.5 1575.5L1563.4 1576.2L1569.4 1576.7L1575.4 1577.2L1581.3 1577.9L1587.3 1578.6L1593.2 1579.3L1599.2 1579.8L1605.2 1580.4L1611.2 1580.8L1617.1 1581.5L1623.1 1581.8L1629.1 1582.5L1635 1583L1641 1583.8L1647 1584.2L1652.9 1585L1658.9 1585.6L1664.8 1586.2L1670.8 1586.2L1676.8 1586.9L1682.8 1587.1L1688.8 1587.4L1694.8 1587.8L1700.7 1588.8L1706.7 1589L1712.7 1589.8L1718.6 1590.3L1724.6 1591.1L1730.6 1591.3L1736.6 1592.1L1742.5 1592.5L1748.5 1593L1754.5 1593.1L1760.5 1593.6L1766.5 1594" fill="none" stroke="#ff0000" stroke-width="11.5" stroke-linecap="round" stroke-linejoin="round" />
<path d="M243 1663.3L249 1662L255 1661.1L261.1 1660.4L267.1 1659.5L273.1 1658.4L279.2 1657.9L285.2 1656.9L291.2 1655.8L297.2 1655.1L303.2 1654.2L309.2 1653.3L315.2 1652.7L321.2 1651.9L327.2 1650.9L333.2 1650.1L339.1 1649L345 1648L351.1 1647.5L357 1647L363 1646.1L369 1645.6L375 1645.1L380.9 1644L386.8 1643.3L392.8 1642.5L398.7 1641.6L404.6 1640.6L410.5 1639.9L416.4 1638.6L422.4 1638.3L428.3 1637.4L434.2 1636.4L440.1 1635.5L446 1634.7L451.9 1633.5L457.8 1632.6L463.7 1631.8L469.6 1630.8L475.4 1629.7L481.3 1628.8L487.2 1628.1L493.1 1626.8L498.9 1625.9L504.9 1625.4L510.8 1624.5L516.6 1623.3L522.5 1622.5L528.5 1621.8L534.3 1620.8L540.1 1619.3L546 1618.1L551.8 1616.9L557.6 1615.4L563.4 1613.9L569.3 1612.8L575.1 1611.6L581 1610.3L586.9 1609.2L592.8 1608.1L598.6 1606.6L604.4 1605L610.3 1603.7L616 1601.9L621.8 1600.2L627.6 1598.8L633.5 1597.1L639.2 1595.3L645.1 1593.7L650.9 1592L656.6 1589.9L662.4 1588.2L668.2 1586.3L674 1584.2L679.8 1582.5L685.7 1580.8L691.5 1578.7L697.2 1576.5L703.1 1574.7L708.9 1572.7L714.7 1570.5L720.5 1568.7L726.4 1566.9L732.2 1564.7L737.8 1562L743.6 1560.1L749.4 1558L755.1 1555.5L761 1553.7L766.9 1551.9L772.5 1549.5L778.3 1547.3L784.2 1545.5L789.7 1542.8L795.5 1540.8L801.3 1538.8L807.1 1537L812.8 1534.6L818.7 1533.2L824.5 1531.2L830.2 1529.2L835.8 1526.8L841.6 1524.9L847.3 1522.9L853.1 1521.3L858.8 1519.5L864.7 1518.4L870.6 1517.2L876.3 1515.3L882 1513.7L887.8 1512.3L893.5 1510.6L899.2 1509L905 1507.8L910.8 1506.6L916.6 1505.8L922.3 1504.6L928 1503.5L933.8 1502.8L939.6 1502L945.3 1500.7L951.1 1500.3L956.8 1499.5L962.5 1498.7L968.3 1498.1L974 1498L979.7 1497.2L985.5 1496.9L991.3 1496.9L997 1496.4L1002.8 1496.6L1008.5 1497.3L1014.3 1497.6L1020 1497.9L1025.8 1498.4L1031.5 1499.1L1037.2 1500L1042.9 1501L1048.7 1502L1054.3 1503.4L1060.1 1504.1L1065.9 1504.6L1071.7 1505.5L1077.5 1506.4L1083.3 1507.5L1089 1509.2L1094.7 1510.9L1100.4 1512.4L1106 1514.5L1111.7 1516.4L1117.5 1517.9L1123.2 1519.5L1129 1521.2L1134.9 1522.6L1140.8 1524.1L1146.6 1525.8L1152.4 1527.8L1158.1 1529.8L1163.9 1531.9L1169.6 1534.2L1175.2 1536.7L1181.2 1538.2L1187 1540.3L1192.7 1542.6L1198.5 1544.8L1204.3 1546.9L1209.7 1550.1L1215.5 1552.5L1221.2 1554.7L1227.1 1556.9L1232.7 1559.6L1238.5 1561.7L1244.3 1563.9L1250.3 1565.8L1255.9 1568.4L1262 1569.9L1267.7 1572.3L1273.5 1574.6L1279.3 1576.7L1285.2 1578.4L1290.9 1580.8L1296.8 1582.7L1302.5 1585L1308.1 1587.7L1313.9 1589.6L1319.8 1591.3L1325.8 1592.8L1331.7 1594.4L1337.6 1596L1343.3 1598.1L1349 1600.1L1354.7 1602.2L1360.4 1604.2L1366.2 1606L1372.1 1607.5L1378 1608.5L1383.9 1610L1389.8 1611.1L1395.6 1612.6L1401.4 1614.3L1407.1 1616.2L1412.9 1617.6L1418.7 1619.1L1424.7 1620L1430.6 1621L1436.4 1622.4L1442.3 1623.3L1448.2 1624.3L1454 1625.6L1459.9 1626.8L1465.7 1627.9L1471.6 1629.2L1477.4 1630.4L1483.2 1631.7L1489.1 1632.7L1495 1633.5L1500.9 1634.6L1506.8 1635.4L1512.6 1636.6L1518.5 1637.5L1524.4 1638.4L1530.3 1639.2L1536.2 1640L1542.2 1640.4L1548 1641.4L1553.9 1642.4L1559.8 1643.3L1565.8 1643.7L1571.7 1644.6L1577.6 1645.3L1583.5 1646.2L1589.5 1646.7L1595.4 1647.5L1601.3 1648.5L1607.3 1649L1613.2 1649.5L1619.2 1650.2L1625.1 1651.2L1631.1 1651.6L1637 1652.3L1643 1653L1649 1653.5L1655 1653.9L1661 1654.5L1666.9 1655.4L1672.9 1655.7L1678.9 1656.5L1684.9 1657.2L1690.9 1657.8L1696.9 1658.3L1702.9 1659.2L1708.9 1659.6L1714.9 1660.3L1720.9 1661.1L1727 1661.8L1733 1662.4L1739 1663.3" fill="none" stroke="#6a0000" stroke-width="10" stroke-linecap="round" stroke-linejoin="round" />
<path d="M243 1875L248.6 1874.1L254.3 1873.4L260 1872.4L265.8 1871.6L271.6 1871.1L277.4 1870.3L283.2 1869.3L289 1868.6L294.9 1868L300.7 1866.7L306.7 1866.2L312.6 1865.4L318.6 1864.8L324.5 1863.8L330.6 1863.8L336.6 1863L342.6 1862L348.6 1861.2L354.7 1860.5L360.7 1859.5L366.8 1858.9L372.8 1858.3L379 1857.7L385.1 1857.1L391.1 1856.2L397.2 1855.3L403.3 1854.7L409.4 1853.8L415.5 1852.9L421.6 1852.2L427.7 1850.9L433.7 1849.9L439.8 1849.1L445.9 1848.3L452 1847.2L458.1 1846.4L464.1 1845.1L470.1 1843.6L476 1842.1L482 1840.8L488 1839.6L493.9 1838.1L499.9 1836.8L505.9 1835.8L511.8 1834.5L517.7 1833.3L523.7 1832.1L529.6 1830.6L535.3 1828.7L541.1 1826.9L546.7 1824.9L552.4 1823L558.2 1821.5L564.1 1820.1L569.6 1817.9L575.2 1816.1L580.7 1813.8L586.1 1811.3L591.6 1809.1L597.1 1806.9L602.4 1804.4L607.8 1802.2L613.2 1799.8L618.3 1797.1L623.6 1794.6L628.9 1792.2L634.2 1789.7L639.4 1787.1L644.5 1784.3L649.5 1781.5L654.6 1778.7L659.3 1775.2L664.1 1772L668.8 1768.6L673.7 1765.5L678.2 1761.8L683 1758.5L687.7 1755.1L692.3 1751.6L696.5 1747.5L701 1743.8L705.4 1739.9L709.4 1735.5L713.6 1731.5L717.9 1727.4L722 1723.1L726.1 1718.8L730.1 1714.3L734 1709.7L737.8 1705L741.6 1700.3L744.8 1695.1L748.5 1690.2L752.1 1685.3L755.8 1680.4L759.5 1675.5L763.4 1670.7L767.3 1665.9L770.8 1660.8L774.4 1655.7L777.9 1650.6L781.7 1645.7L785.1 1640.5L788.9 1635.6L792.5 1630.6L796.1 1625.5L799.7 1620.5L803.4 1615.6L807.2 1610.8L810.9 1605.9L815.1 1601.4L819 1596.7L822.9 1592L827.1 1587.5L831.2 1583.1L835.2 1578.5L839.4 1574.2L843.8 1570L848.2 1565.9L852.8 1562L857.4 1558.1L862.2 1554.4L866.8 1550.6L871.5 1546.8L876.4 1543.2L881.2 1539.5L886 1535.8L891.1 1532.5L896.2 1529.1L901.5 1526L906.9 1523.1L912.2 1520.1L917.6 1517.4L923.2 1515L928.6 1512.2L934.1 1509.7L939.8 1507.8L945.4 1505.6L950.9 1503.5L956.6 1502L962.3 1500.6L968 1499.3L973.7 1498.2L979.4 1497.4L985.1 1496.6L990.7 1496.4L996.4 1496.3L1002 1496.3L1007.6 1496.6L1013.2 1496.9L1018.8 1497.2L1024.2 1498.4L1029.8 1499.3L1035.2 1500.7L1040.6 1502.5L1045.9 1504.7L1051.3 1506.7L1056.3 1509.6L1061.3 1512.7L1066.4 1515.7L1071.4 1518.9L1076.4 1522.3L1081.3 1525.8L1086.1 1529.6L1090.7 1533.6L1095.6 1537.3L1100.3 1541.4L1105 1545.5L1109.8 1549.4L1114.3 1553.7L1118.7 1558.2L1123.2 1562.4L1127.9 1566.5L1132.4 1570.6L1137.1 1574.6L1141.9 1578.4L1146.2 1582.6L1150.2 1587.1L1154.3 1591.5L1158.5 1595.8L1162.3 1600.5L1166.3 1604.9L1170.4 1609.2L1174.4 1613.6L1178.2 1618.1L1182.3 1622.4L1186.3 1626.8L1190.5 1631.1L1194.6 1635.5L1198.6 1639.9L1202.4 1644.7L1206.3 1649.3L1209.9 1654.3L1213.8 1659.1L1217.6 1663.9L1221.5 1668.7L1225 1673.8L1229 1678.5L1232.5 1683.7L1236.2 1688.7L1240.2 1693.5L1243.9 1698.5L1247.6 1703.5L1251.8 1708.1L1255.5 1713L1259.2 1718L1263.2 1722.6L1267.2 1727.2L1271 1732L1275.1 1736.5L1279.1 1741L1283.3 1745.3L1287.3 1749.7L1291.7 1753.7L1295.9 1757.8L1300.3 1761.7L1304.6 1765.7L1308.8 1769.7L1313.2 1773.4L1317.8 1776.9L1322.3 1780.6L1327 1783.8L1331.9 1786.8L1336.8 1789.7L1341.7 1792.7L1346.8 1795.4L1352 1797.7L1357.1 1800.2L1362.4 1802.6L1367.5 1805.1L1373 1806.9L1378.2 1809.3L1383.7 1811.3L1389 1813.5L1394.6 1815.2L1400.1 1817.3L1405.7 1819L1411.2 1820.9L1416.9 1822.5L1422.6 1824.1L1428.3 1825.7L1434 1827.4L1439.9 1828.6L1445.7 1830.1L1451.6 1831.2L1457.5 1832.6L1463.4 1833.7L1469.3 1835.4L1475.3 1836.3L1481.3 1837.5L1487.4 1838.4L1493.4 1839.5L1499.6 1840L1505.6 1841.5L1511.6 1842.6L1517.7 1843.9L1523.8 1844.8L1529.9 1845.9L1536.1 1846.7L1542.2 1847.8L1548.3 1848.9L1554.5 1849.8L1560.6 1850.9L1566.8 1851.8L1573 1852.4L1579.1 1853.5L1585.2 1854.6L1591.4 1855.3L1597.5 1856.3L1603.7 1856.9L1609.9 1857.3L1616 1857.8L1622.1 1858.5L1628.2 1859.2L1634.3 1860.3L1640.3 1861L1646.3 1862L1652.3 1862.9L1658.4 1863.4L1664.3 1864.4L1670.3 1865.1L1676.2 1866L1682 1867L1687.8 1868.3L1693.6 1868.9L1699.4 1869.7L1705.2 1870.3L1711 1870.7L1716.8 1871.1L1722.4 1871.8L1728 1872.7L1733.6 1873.5L1739 1875" fill="none" stroke="#70006c" stroke-width="10.5" stroke-linecap="round" stroke-linejoin="round" />
<path d="M240 2168.4L245.5 2166.8L251.2 2165.8L256.8 2164.6L262.5 2163.6L268.3 2162.8L274.1 2161.8L279.9 2160.8L285.8 2159.9L291.6 2158.8L297.5 2157.7L303.5 2156.9L309.4 2155.8L315.4 2154.8L321.4 2153.8L327.4 2153L333.5 2152.2L339.5 2151.4L345.6 2150.6L351.7 2149.8L357.9 2149.2L364 2148.4L370.1 2147.4L376.2 2146.4L382.4 2145.8L388.4 2144.5L394.5 2143.4L400.7 2142.7L406.8 2141.5L412.9 2140.4L419 2139.6L425.1 2138.8L431.2 2137.8L437.4 2137.1L443.4 2136L449.5 2135.2L455.5 2134.1L461.5 2132.8L467.5 2131.4L473.5 2130.3L479.3 2128.7L485.2 2127.4L491.1 2126L496.9 2124.5L502.7 2123L508.4 2121.4L514 2119.4L519.7 2117.6L525.2 2115.6L530.7 2113.6L536.1 2111.2L541.6 2109.1L546.9 2106.6L552.3 2104.3L557.2 2101.2L562.4 2098.4L567.5 2095.6L572.5 2092.6L577.4 2089.3L582.3 2086L587 2082.5L591.4 2078.7L596 2075L600.6 2071.3L605 2067.4L609.4 2063.4L613.6 2059.3L617.4 2054.7L621.5 2050.4L625.2 2045.8L628.9 2041.2L632.7 2036.6L636.6 2032.1L639.9 2027.1L643.5 2022.4L647.1 2017.6L650.5 2012.7L653.7 2007.6L657.1 2002.6L660.2 1997.5L663.1 1992.2L666 1986.9L669.1 1981.7L672 1976.4L675.1 1971.2L677.9 1965.8L680.8 1960.5L683.7 1955.2L686.4 1949.8L689.3 1944.4L692.1 1939L694.7 1933.6L697.4 1928.2L699.9 1922.7L702.3 1917.2L705.1 1911.8L707.6 1906.3L709.8 1900.7L712.4 1895.2L714.9 1889.7L716.9 1884L719.3 1878.5L721.8 1873L723.9 1867.4L726.1 1861.8L728.8 1856.4L731.1 1850.8L733.4 1845.2L735.7 1839.7L738 1834.1L740.1 1828.4L742.3 1822.9L744.7 1817.3L746.8 1811.7L749.1 1806.1L751.1 1800.4L753.3 1794.8L755.6 1789.3L757.9 1783.7L760.3 1778.2L762.8 1772.7L765.1 1767.2L767 1761.4L769.5 1756L771.6 1750.3L773.8 1744.7L776 1739.1L778.5 1733.6L780.7 1728L783.1 1722.5L785.6 1717L788.2 1711.6L790.6 1706.1L792.9 1700.5L795.5 1695.1L798.1 1689.7L800.5 1684.1L803.2 1678.7L805.9 1673.3L808.7 1668L811.3 1662.5L814 1657.1L816.8 1651.8L819.9 1646.6L822.6 1641.2L825.5 1635.9L828.2 1630.5L831.1 1625.1L833.7 1619.6L836.8 1614.4L840 1609.2L843.4 1604.1L846.7 1599L850.2 1593.9L853.7 1588.9L857.2 1583.9L860.5 1578.8L864.2 1573.9L867.7 1568.9L871.3 1564L874.8 1559.1L878.7 1554.5L882.7 1550L886.6 1545.5L890.5 1540.9L895 1537L899.4 1533.1L903.7 1529.1L908.4 1525.6L913.1 1522.2L917.6 1518.6L922.5 1515.4L927.4 1512.4L932.5 1509.7L937.6 1507L942.9 1504.6L948.2 1502.2L953.7 1500.2L959.4 1498.5L965.3 1497.1L971.2 1495.9L977.3 1495.1L983.6 1494.5L990 1494.2" fill="none" stroke="#005c00" stroke-width="9.5" stroke-linecap="round" stroke-linejoin="round" />
<path d="M240 2171L245.7 2170L251.5 2169.3L257.3 2168.7L263.1 2167.8L269 2166.9L274.8 2166L280.6 2164.7L286.5 2163.9L292.4 2162.8L298.3 2162L304.3 2161.1L310.2 2160.3L316.2 2159.3L322.2 2158.5L328.1 2157.3L334.1 2156.4L340.1 2155.7L346.1 2154.4L352.1 2153.4L358.2 2152.6L364.1 2151.4L370.1 2150.1L376.1 2149.1L382.1 2147.8L388.1 2146.6L394.2 2145.6L400.2 2144.6L406.2 2143.3L412.3 2142.3L418.2 2141L424.2 2139.7L430.2 2138.5L436.3 2137.6L442.3 2136.3L448.2 2135.1L454.2 2133.7L460.1 2132.2L466 2130.7L472 2129.5L477.9 2128.2L483.8 2127L489.7 2125.6L495.6 2124.1L501.3 2122.3L507.2 2120.8L513 2119.2L518.7 2117.5L524.6 2116L530.4 2114.6L536.2 2113L541.9 2111.4L547.7 2109.9L553.3 2107.7L558.9 2105.6L564.6 2103.7L570.2 2101.6L575.6 2099.2L581.1 2097.2L586.5 2094.7L591.8 2092.2L596.9 2089.4L602.1 2086.8L607.1 2083.9L612.1 2081L616.9 2077.9L621.6 2074.6L626.2 2071.2L630.6 2067.5L634.9 2063.8L639.1 2059.9L642.9 2055.6L646.6 2051.2L650.4 2046.8L653.7 2041.9L656.8 2036.9L660 2031.8L662.8 2026.5L665.5 2021.1L668.1 2015.6L670.9 2010.2L673.5 2004.6L676 1999L678.7 1993.4L681.3 1987.8L683.7 1982.2L686.1 1976.5L688.5 1970.9L690.9 1965.3L693.6 1959.8L696.1 1954.3L698.7 1948.8L701.1 1943.2L703.6 1937.7L705.6 1932L707.4 1926.2L709.6 1920.6L711.9 1915L714 1909.4L716 1903.7L718.6 1898.4L720.7 1892.8L723.1 1887.3L725.3 1881.7L727.9 1876.4L730.4 1870.9L732.9 1865.5L735.2 1860L737.5 1854.5L739.6 1849L741.6 1843.4L743.6 1837.8L745.7 1832.2L748 1826.7L750.3 1821.3L752.5 1815.7L755 1810.4L757.3 1804.8L759.6 1799.4L762 1793.9L764.4 1788.5L766.7 1783L769.1 1777.5L771.3 1772L773.5 1766.5L776 1761L778.5 1755.6L780.9 1750.1L783.5 1744.7L785.9 1739.2L788.1 1733.6L790.5 1728.1L792.9 1722.5L795.3 1717L797.8 1711.5L800.5 1706.1L803.2 1700.6L805.8 1695.1L808.3 1689.6L811 1684.1L813.4 1678.5L816.1 1672.9L818.9 1667.5L821.8 1662L824.6 1656.5L827.5 1651L830.2 1645.4L832.8 1639.8L835.6 1634.3L838.4 1628.7L841.4 1623.3L844.5 1618L847.6 1612.6L850.4 1607.1L853.3 1601.6L856.3 1596.3L859.4 1591L862.8 1586L866.5 1581.2L870.2 1576.4L873.9 1571.7L877.6 1567L881 1562.1L884.9 1557.6L888.6 1553L892.6 1548.7L896.7 1544.5L901 1540.6L905.3 1536.6L909.8 1533L914.2 1529.2L918.8 1525.7L923.6 1522.5L928.4 1519.3L933.3 1516.3L938.5 1513.6L943.7 1511L948.9 1508.3L954.3 1505.9L959.8 1503.6L965.5 1501.5L971.3 1499.7L977.4 1498.3L983.6 1497.4L990 1496.8" fill="none" stroke="#005c00" stroke-width="9.5" stroke-linecap="round" stroke-linejoin="round" />
<path d="M990 1494.2L996.4 1494.4L1002.7 1494.8L1008.8 1495.9L1014.8 1496.7L1020.7 1498L1026.3 1500L1031.8 1502.3L1037.1 1504.6L1042.4 1506.9L1047.6 1509.6L1052.6 1512.4L1057.5 1515.4L1062.4 1518.6L1067 1522L1071.6 1525.6L1076.4 1529L1080.7 1533L1085.1 1536.9L1089.3 1541.1L1093.2 1545.6L1097 1550.3L1101.1 1554.6L1104.9 1559.3L1108.5 1564.2L1112.3 1568.9L1116.2 1573.6L1119.7 1578.6L1123.4 1583.5L1126.8 1588.6L1130.1 1593.7L1133.3 1599L1136.8 1604L1139.6 1609.4L1143 1614.5L1146 1619.8L1148.9 1625.1L1151.7 1630.5L1154.7 1635.8L1157.5 1641.1L1160.3 1646.5L1163 1651.9L1165.8 1657.3L1168.6 1662.6L1171.5 1667.9L1174.2 1673.3L1177.1 1678.6L1179.8 1684L1182.1 1689.6L1184.5 1695.1L1186.8 1700.6L1189.6 1706L1191.8 1711.6L1194.7 1716.9L1197.3 1722.3L1200 1727.7L1202 1733.4L1204.5 1738.9L1206.6 1744.6L1208.9 1750.1L1211.1 1755.7L1213.4 1761.3L1215.4 1767L1217.7 1772.5L1219.8 1778.2L1222 1783.7L1224.2 1789.4L1226.6 1794.9L1228.8 1800.5L1231 1806.1L1233.2 1811.7L1235.6 1817.2L1237.8 1822.8L1240 1828.4L1242.5 1833.9L1244.6 1839.5L1247 1845.1L1249.3 1850.6L1251.5 1856.3L1253.7 1861.8L1256.2 1867.4L1258.3 1873L1260.5 1878.6L1263 1884.1L1265.3 1889.7L1267.7 1895.2L1270.3 1900.6L1272.9 1906.1L1275.3 1911.6L1277.6 1917.2L1280.2 1922.7L1282.8 1928.1L1285.2 1933.6L1288.2 1938.9L1291 1944.3L1293.7 1949.7L1296.5 1955.1L1299.4 1960.4L1301.9 1965.9L1304.9 1971.2L1307.8 1976.5L1310.6 1981.9L1313.6 1987.1L1316.5 1992.4L1319.4 1997.7L1322.5 2002.9L1325.7 2008L1329.1 2013L1332.6 2017.8L1336.2 2022.6L1339.7 2027.5L1343.5 2032L1347 2036.8L1350.9 2041.3L1354.9 2045.7L1358.9 2050L1362.9 2054.4L1367.2 2058.5L1371.4 2062.6L1375.3 2067L1379.6 2071.1L1383.7 2075.4L1388.2 2079.1L1392.8 2082.8L1397.6 2086.3L1402.4 2089.6L1407.4 2092.7L1412.4 2095.8L1417.3 2098.9L1422.5 2101.7L1427.7 2104.3L1433 2106.8L1438.4 2109.2L1443.8 2111.5L1449.2 2113.7L1454.7 2115.8L1460.3 2117.7L1465.8 2119.8L1471.6 2121.5L1477.4 2122.9L1483.1 2124.6L1488.9 2126.1L1494.8 2127.3L1500.7 2128.5L1506.6 2129.8L1512.6 2131.3L1518.5 2132.8L1524.4 2134.3L1530.4 2135.5L1536.5 2136.7L1542.6 2137.3L1548.7 2138.3L1554.8 2139.1L1560.9 2140.2L1567 2141.1L1573.1 2142.4L1579.2 2143.2L1585.4 2143.9L1591.5 2144.7L1597.7 2145.5L1603.8 2146.2L1609.9 2147.1L1616.1 2147.9L1622.2 2149L1628.2 2150.1L1634.3 2151L1640.4 2152L1646.4 2153.2L1652.5 2153.8L1658.6 2154.1L1664.6 2154.9L1670.6 2155.4L1676.6 2156.5L1682.5 2157.3L1688.4 2158.5L1694.3 2159.3L1700.2 2160.3L1706 2160.9L1711.8 2162.1L1717.5 2163.3L1723.2 2164.6L1728.9 2165.8L1734.5 2167L1740 2168.4" fill="none" stroke="#005c00" stroke-width="9.5" stroke-linecap="round" stroke-linejoin="round" />
<path d="M990 1496.8L996.3 1497.8L1002.5 1498.9L1008.5 1500.4L1014.4 1502.1L1020.1 1503.9L1025.7 1505.9L1031.1 1508.4L1036.4 1510.9L1041.6 1513.5L1046.7 1516.3L1051.6 1519.4L1056.5 1522.5L1061.2 1525.8L1065.8 1529.2L1070.2 1533L1074.5 1536.8L1078.8 1540.7L1082.9 1544.9L1086.8 1549.3L1090.6 1553.7L1094.5 1558.1L1098.3 1562.6L1102.2 1567.1L1105.9 1571.8L1109.8 1576.4L1113.5 1581.2L1116.6 1586.4L1119.9 1591.5L1123.1 1596.7L1126.4 1601.9L1129.4 1607.2L1132.8 1612.4L1135.7 1617.8L1138.9 1623.2L1141.7 1628.6L1144.7 1634.1L1147.6 1639.6L1150.7 1645L1153.7 1650.4L1156.5 1655.9L1159.1 1661.5L1161.7 1667.2L1164.2 1672.8L1166.6 1678.4L1169.2 1684L1171.7 1689.6L1174.5 1695L1177.1 1700.5L1179.7 1706L1182.2 1711.5L1184.7 1717L1186.8 1722.7L1189.2 1728.2L1191.7 1733.7L1194.1 1739.2L1196.6 1744.6L1199.1 1750.1L1201.5 1755.6L1203.8 1761.1L1206.2 1766.6L1208.5 1772.1L1211.1 1777.4L1213.5 1782.9L1215.6 1788.5L1218 1793.9L1220 1799.5L1222.2 1805.1L1224.5 1810.6L1227 1816L1229.2 1821.4L1231.8 1826.8L1233.9 1832.4L1236.2 1837.9L1238.4 1843.4L1240.6 1848.9L1242.8 1854.4L1245.1 1859.9L1247.4 1865.4L1249.5 1871L1251.8 1876.5L1254 1882L1256.4 1887.5L1258.6 1893L1260.9 1898.6L1263.1 1904.1L1265.4 1909.6L1267.6 1915.2L1269.8 1920.8L1272.2 1926.4L1274.4 1932L1276.8 1937.5L1279.5 1942.9L1281.8 1948.5L1284.2 1954.1L1286.6 1959.7L1289.1 1965.3L1291.3 1971L1294 1976.5L1296.3 1982.1L1298.7 1987.8L1301.2 1993.5L1303.7 1999.1L1306.1 2004.8L1308.9 2010.3L1311.9 2015.6L1314.6 2021.1L1317.2 2026.5L1320.2 2031.7L1323.3 2036.8L1326.6 2041.7L1330 2046.5L1333.4 2051.2L1337.1 2055.7L1340.8 2060L1344.8 2064.1L1349.1 2067.9L1353.6 2071.5L1358.1 2075L1362.9 2078.1L1367.8 2081.2L1372.7 2084.1L1377.8 2086.9L1383 2089.5L1388.2 2092.2L1393.4 2095L1398.8 2097.4L1404.1 2099.9L1409.7 2102L1415.5 2103.6L1421.1 2105.4L1426.8 2107.4L1432.5 2109.1L1438.2 2110.9L1443.9 2112.7L1449.7 2114.4L1455.4 2116.1L1461.2 2117.7L1467.1 2119.1L1472.8 2120.9L1478.7 2122.2L1484.5 2123.9L1490.4 2125.2L1496.2 2126.8L1502.1 2128.1L1508 2129.6L1514 2130.7L1519.9 2132.1L1525.9 2133.4L1531.8 2134.7L1537.8 2136L1543.8 2137.4L1549.7 2138.8L1555.7 2139.9L1561.7 2141.2L1567.7 2142.6L1573.7 2143.8L1579.7 2144.8L1585.8 2145.9L1591.8 2147.1L1597.8 2148.3L1603.8 2149.2L1609.9 2150.1L1615.9 2151.2L1622 2152L1628 2152.9L1634 2154.1L1639.9 2155.2L1645.9 2156.4L1651.9 2157.5L1657.9 2158.4L1663.8 2159.4L1669.7 2160.5L1675.7 2161.5L1681.6 2162.7L1687.4 2163.9L1693.3 2165L1699.2 2165.7L1705.1 2166.3L1711 2167L1716.9 2167.6L1722.7 2168.2L1728.5 2169.4L1734.2 2170.4L1740 2171" fill="none" stroke="#005c00" stroke-width="9.5" stroke-linecap="round" stroke-linejoin="round" />
<path d="M245 2409.7L249.5 2405.3L254.2 2401.1L258.9 2397L263.7 2393.1L268.2 2388.8L272.5 2384.4L276.8 2380L281.2 2375.7L285.4 2371.2L289.6 2366.8L293.8 2362.4L297.9 2357.9L301.9 2353.4L305.9 2348.9L309.8 2344.4L314 2340L317.9 2335.5L321.7 2330.8L325.3 2326.1L329 2321.4L332.2 2316.3L335.6 2311.5L339.3 2306.8L342.7 2302L346.2 2297.2L349.8 2292.5L353.3 2287.7L356.8 2283L360.1 2278.1L363.6 2273.4L367.3 2268.7L370.6 2263.9L373.6 2258.8L376.9 2253.9L380 2248.9L382.9 2243.7L385.9 2238.7L388.7 2233.5L391.8 2228.5L394.7 2223.3L397.7 2218.3L400.6 2213.2L403.6 2208.1L406.4 2202.9L409.4 2197.8L412.2 2192.6L415.2 2187.5L418.2 2182.4L420.9 2177.2L423.4 2171.8L426.2 2166.6L428.6 2161.2L431 2155.7L433.7 2150.5L436.6 2145.2L439.1 2139.9L442 2134.7L444.7 2129.3L447.3 2124L449.8 2118.6L452.7 2113.3L455.2 2107.9L458.1 2102.6L460.5 2097.1L463.2 2091.8L465.6 2086.3L468 2080.8L470.3 2075.2L472.8 2069.7L475.1 2064.1L477.6 2058.7L480 2053.1L482.5 2047.6L485.2 2042.2L487.8 2036.7L490.3 2031.2L492.9 2025.8L495.5 2020.3L497.8 2014.7L500.3 2009.1L502.7 2003.6L505 1997.9L507.4 1992.3L509.6 1986.7L512.1 1981.1L514.4 1975.5L516.9 1969.9L519.3 1964.3L522 1958.9L524.4 1953.3L526.6 1947.6L529 1942L531.5 1936.4L533.6 1930.6L535.7 1924.9L538.3 1919.4L540.6 1913.7L543 1908.1L545.4 1902.5L547.9 1896.9L550.1 1891.2L552.3 1885.5L554.4 1879.8L556.9 1874.2L559.3 1868.6L561.9 1863.1L564.3 1857.4L566.7 1851.8L568.9 1846.1L571.2 1840.5L573.4 1834.8L575.8 1829.2L578.2 1823.6L580.6 1818L582.8 1812.3L585 1806.6L587.5 1801.1L590 1795.5L592.3 1789.9L594.8 1784.4L597.3 1778.8L599.8 1773.3L602.2 1767.7L604.7 1762.2L607.2 1756.7L609.7 1751.1L612 1745.5L614.3 1739.9L616.7 1734.4L619.3 1728.9L621.6 1723.4L623.9 1717.8L626.5 1712.3L629 1706.9L631.2 1701.3L634 1696L636.6 1690.5L639.2 1685.1L641.8 1679.8L644.3 1674.3L646.7 1668.8L649.2 1663.4L651.5 1657.9L653.8 1652.4L656.4 1647.1L658.9 1641.7L661.4 1636.3L664.2 1631L666.8 1625.7L669.3 1620.4L672 1615.1L674.6 1609.8L677.1 1604.4L679.8 1599.1L682.6 1593.9L685.4 1588.7L688.1 1583.4L691.1 1578.3L693.9 1573.1L696.9 1568L699.8 1562.8L702.8 1557.7L706 1552.6L709.1 1547.5L712.4 1542.5L715.7 1537.6L719.4 1532.9L722.9 1527.9L726.2 1522.9L729.6 1517.9L733.2 1513L736.8 1508.1L740.5 1503.3L744.7 1498.7L748.6 1493.9L752.6 1489.3L756.7 1484.6L761 1480L765.1 1475.3L769.5 1470.7L774 1466.3L778.4 1461.7L782.9 1457.4L787.5 1453.1L792.4 1449.3L797.2 1445.4L802.2 1441.9L807.1 1438.4L812.1 1435.2L817 1432L822 1429.1L827.1 1426.6L832.4 1424.5L837.5 1422.4L842.9 1421.1L848.3 1420.1L853.7 1419.3L859.1 1418.8L864.6 1419L870.1 1419.2L875.6 1419.9L881 1421.1L886.5 1422.3L891.9 1423.7L897.4 1425.5L902.9 1427.4L908.4 1429.5L913.9 1432L919.2 1435L924.5 1438L929.9 1441.2L935 1445L940 1448.8L945.2 1452.5L949.9 1456.9L954.7 1461.1L959.6 1465.3L964.1 1469.7L968.8 1473.9L973.5 1478.1L977.6 1482.7L981.8 1487.1L985.8 1491.5L990 1495.5" fill="none" stroke="#000000" stroke-width="10.3" stroke-linecap="round" stroke-linejoin="round" />
<path d="M245 2409.7L251.1 2409.6L257.1 2408.5L263.2 2408L269.2 2407.3L275.2 2407.1L281.2 2406.1L287.2 2405.3L293.1 2404.4L299 2403.4L304.9 2402.4L310.9 2401.8L316.8 2401.3L322.7 2400.6L328.7 2400.1L334.6 2399.6L340.4 2398.4L346.3 2397.4L352.1 2396.2L357.9 2394.8L363.7 2393.7L369.6 2392.9L375.4 2392.2L381.3 2391.2L387.1 2390.3L393 2389.2L398.8 2388.1L404.6 2386.7L410.5 2385.9L416.4 2384.9L422.1 2383.3L428 2382.1L433.8 2380.8L439.6 2379L445.3 2377.3L451.2 2376.1L457.1 2374.5L462.8 2372.4L468.5 2370.5L474.5 2369.1L480.3 2367.3L486.2 2365.5L492.1 2363.8L498.1 2362.1L503.7 2359.3L509.6 2357.4L515.2 2354.6L520.9 2352.2L526.7 2350L532.4 2347.6L538 2344.9L543.7 2342.3L549.3 2339.7L554.9 2337L560.5 2334.3L565.9 2331.4L571.6 2328.8L576.8 2325.7L582.3 2322.9L587.6 2319.9L592.7 2316.5L597.7 2313.1L602.8 2309.8L607.3 2305.8L612.2 2302.4L616.9 2298.7L621.7 2295.1L626.1 2291.2L630.6 2287.5L634.9 2283.4L639.2 2279.4L643.7 2275.6L647.9 2271.6L652 2267.4L655.9 2263L659.7 2258.5L662.9 2253.6L666.6 2249.1L670.2 2244.5L673.7 2239.8L677 2234.9L680.1 2230L683.3 2225L686.6 2220.2L689.7 2215.2L692.7 2210.1L695.9 2205.2L698.7 2199.9L701.7 2194.8L704.4 2189.5L707.5 2184.4L710.1 2179L713.1 2173.8L715.8 2168.5L718.2 2163L720.5 2157.5L723.1 2152L725 2146.3L727.1 2140.6L729.7 2135.2L732.1 2129.6L734.5 2124.1L737 2118.5L739.1 2112.8L740.9 2107L743 2101.3L745 2095.6L746.8 2089.8L748.8 2084L751.1 2078.4L753.5 2072.8L755.3 2067L757.3 2061.3L759.4 2055.6L761.5 2049.9L763 2044L765 2038.3L767.4 2032.7L769.3 2027L771.1 2021.2L773.5 2015.6L775.6 2009.9L777.5 2004.2L779.6 1998.5L781.4 1992.7L783.1 1986.9L785 1981.2L786.6 1975.4L788.4 1969.6L790.4 1963.9L791.9 1958.1L793.1 1952.1L795 1946.4L796.4 1940.5L798 1934.7L800 1929L802 1923.3L804 1917.6L806 1912L808.3 1906.4L810.2 1900.7L811.9 1894.9L813.6 1889.1L815.3 1883.3L816.8 1877.5L818.7 1871.8L821 1866.2L822.9 1860.5L825 1854.9L826.8 1849.2L828.8 1843.5L830.5 1837.7L832.3 1832L834.2 1826.3L836.2 1820.6L837.6 1814.8L839.6 1809.1L841.6 1803.4L843.9 1797.9L845.6 1792.1L847.9 1786.6L849.8 1780.9L851.8 1775.2L853.9 1769.6L856.2 1764L858.4 1758.5L860.8 1752.9L863.1 1747.4L865 1741.7L867.5 1736.2L869.9 1730.7L872.1 1725.1L874.4 1719.6L876.5 1713.9L878.3 1708.1L880.6 1702.6L882.9 1697L885.4 1691.5L888 1686.1L890.8 1680.8L893.1 1675.2L895.6 1669.7L898.1 1664.2L900.4 1658.6L903 1653.1L905.7 1647.7L908.4 1642.3L911 1636.8L913.8 1631.5L916.4 1626L918.9 1620.5L921.7 1615.1L924.4 1609.7L927.5 1604.5L930.3 1599.1L933.6 1594L936.3 1588.6L939.1 1583.3L942 1578L945 1572.8L947.9 1567.5L950.8 1562.2L953.9 1557.1L956.4 1551.6L959.1 1546.2L962.5 1541.3L965.7 1536.2L968.9 1531.2L972.1 1526.1L975.5 1521.3L977.9 1515.8L980.9 1510.7L984 1505.6L987.3 1500.8L990 1495.5" fill="none" stroke="#000000" stroke-width="10.3" stroke-linecap="round" stroke-linejoin="round" />
<path d="M990 1495.5L993.7 1490.6L997.4 1485.8L1001 1480.7L1005.4 1476.3L1009.7 1471.7L1013.8 1467.1L1018.3 1462.7L1023 1458.6L1027.7 1454.3L1032.4 1450.3L1037.5 1446.7L1042.5 1443L1047.5 1439.4L1052.8 1436.3L1058.1 1433.4L1063.5 1430.6L1069 1428.2L1074.6 1426.4L1080.1 1424.3L1085.8 1423.1L1091.4 1422L1097.1 1421.5L1102.7 1420.9L1108.4 1420.9L1113.9 1421.2L1119.5 1421.6L1125.1 1421.9L1130.5 1423.1L1136.1 1424.1L1141.6 1425.3L1147 1427L1152.2 1429.1L1157.4 1431.4L1162.5 1434.2L1167.4 1437.2L1172.1 1440.4L1176.9 1443.7L1181.8 1446.9L1186.4 1450.6L1191.1 1454.4L1195.6 1458.3L1199.9 1462.5L1204.2 1466.9L1208.4 1471.4L1212.6 1475.9L1216.6 1480.7L1220.6 1485.5L1224.3 1490.6L1228.1 1495.7L1231.9 1500.7L1235.6 1505.8L1239.4 1510.9L1242.9 1516.2L1246.6 1521.3L1250 1526.7L1253.3 1531.9L1256.6 1537.3L1260.1 1542.4L1263.5 1547.7L1266.7 1552.9L1269.8 1558.2L1273 1563.5L1276.3 1568.6L1279.2 1574L1282.6 1579.1L1285.8 1584.3L1288.6 1589.6L1291.4 1595L1294.1 1600.4L1296.7 1605.8L1299.6 1611.1L1302.5 1616.3L1305.4 1621.6L1308.1 1626.9L1310.6 1632.3L1313.2 1637.7L1315.7 1643.1L1318 1648.6L1320.7 1653.9L1323.7 1659.1L1326.1 1664.5L1328.8 1669.8L1331.6 1675L1334.1 1680.4L1336.4 1685.8L1338.9 1691.3L1341.4 1696.6L1343.4 1702.2L1346 1707.6L1348.3 1713L1350.6 1718.5L1352.9 1724L1355.8 1729.2L1357.9 1734.8L1360.3 1740.2L1363.2 1745.4L1365.7 1750.9L1368.1 1756.3L1370.6 1761.7L1372.9 1767.2L1375 1772.8L1377.4 1778.2L1379.4 1783.9L1381.9 1789.3L1384.1 1794.9L1386.7 1800.3L1389.1 1805.8L1391.7 1811.1L1393.9 1816.7L1396.5 1822.1L1398.7 1827.7L1401 1833.2L1403.4 1838.7L1405.8 1844.2L1408 1849.8L1410.5 1855.2L1412.8 1860.8L1415.1 1866.3L1417.6 1871.8L1420.2 1877.2L1422.3 1882.8L1424.7 1888.3L1427.1 1893.9L1429.3 1899.4L1431.5 1905.1L1433.8 1910.6L1436.1 1916.2L1438.3 1921.8L1440.5 1927.4L1443 1932.9L1445.3 1938.4L1447.6 1944L1450.3 1949.4L1452.8 1954.9L1455.1 1960.5L1457.5 1966L1460.1 1971.4L1462.3 1977L1464.5 1982.7L1467 1988.2L1469.4 1993.7L1471.6 1999.3L1473.9 2004.9L1476.4 2010.4L1478.8 2015.9L1481.1 2021.6L1483.8 2027L1486.5 2032.4L1488.8 2037.9L1491.3 2043.4L1494 2048.9L1496.7 2054.3L1499.1 2059.8L1501.6 2065.3L1504.3 2070.8L1506.8 2076.2L1509.4 2081.7L1512.1 2087.2L1514.8 2092.5L1517.2 2098.1L1519.6 2103.6L1521.8 2109.3L1524.1 2114.9L1526.6 2120.4L1529.4 2125.8L1532.5 2131L1535.3 2136.4L1538.2 2141.7L1540.8 2147.2L1543.3 2152.7L1545.8 2158.2L1548.5 2163.6L1550.9 2169.2L1553.8 2174.5L1556.6 2179.9L1559.3 2185.3L1562 2190.7L1565 2196L1567.8 2201.4L1570.2 2206.9L1573.2 2212.2L1575.9 2217.7L1578.4 2223.2L1581.3 2228.5L1584.5 2233.7L1587.3 2239L1590.6 2244.1L1593.8 2249.2L1597.1 2254.3L1600 2259.5L1603.1 2264.7L1606 2270L1609.2 2275.1L1612.1 2280.4L1615.5 2285.3L1619 2290.1L1622.5 2295L1625.7 2300L1629.2 2304.9L1632.6 2309.8L1636 2314.7L1639.5 2319.5L1643.1 2324.2L1646.9 2328.8L1650.6 2333.4L1654.6 2337.8L1658.7 2342.1L1662.7 2346.4L1666.3 2351.2L1670.4 2355.5L1674.4 2359.9L1678.3 2364.3L1682.7 2368.4L1687.2 2372.3L1691.6 2376.3L1696.1 2380.2L1700.7 2383.9L1705.3 2387.9L1709.9 2391.6L1714.7 2395.4L1719.6 2398.9L1724.5 2402.4L1729.6 2405.7L1734.8 2409" fill="none" stroke="#000000" stroke-width="10.3" stroke-linecap="round" stroke-linejoin="round" />
<path d="M990 1495.5L993.5 1500.5L997 1505.6L1000.5 1510.6L1003.1 1516.1L1006.3 1521.3L1009.4 1526.5L1012.5 1531.8L1015.4 1537.1L1018.5 1542.2L1021.2 1547.6L1024.4 1552.8L1027 1558.2L1029.8 1563.5L1032.8 1568.7L1035.8 1573.9L1038.6 1579.2L1041.6 1584.4L1044.7 1589.5L1047.8 1594.7L1050.5 1600L1053 1605.4L1055.4 1610.9L1057.7 1616.4L1059.9 1621.9L1062.5 1627.3L1065.1 1632.6L1067.7 1638L1069.9 1643.5L1072.6 1648.8L1074.8 1654.3L1077.2 1659.7L1079.7 1665.1L1082.4 1670.4L1084.4 1676L1086.7 1681.5L1089.2 1686.9L1091.4 1692.5L1093.8 1697.9L1096.2 1703.3L1098.6 1708.7L1100.7 1714.3L1102.7 1719.9L1104.8 1725.5L1106.9 1731L1108.9 1736.6L1111 1742.2L1113 1747.8L1115.4 1753.3L1117.2 1759L1119.5 1764.5L1121.4 1770.1L1123.5 1775.7L1125.5 1781.3L1127.3 1787L1129.2 1792.7L1131.5 1798.2L1133.9 1803.7L1135.5 1809.5L1137.7 1815.1L1139.3 1820.9L1140.9 1826.7L1142.7 1832.4L1144.8 1838.1L1146.8 1843.8L1149.1 1849.3L1151 1855.1L1153 1860.8L1154.8 1866.5L1156.6 1872.3L1158.7 1878L1160.6 1883.8L1162.7 1889.4L1164.6 1895.2L1166.4 1901L1167.9 1906.9L1169.8 1912.7L1171.3 1918.6L1173.5 1924.3L1175.5 1930L1177.6 1935.7L1179.9 1941.4L1181.6 1947.3L1182.8 1953.3L1184.7 1959.1L1186.6 1964.8L1188.2 1970.7L1190.6 1976.4L1192.8 1982.1L1195.2 1987.7L1197.1 1993.5L1199.2 1999.2L1201.1 2005L1203.4 2010.6L1205.1 2016.5L1207.5 2022.1L1209.2 2027.9L1211.3 2033.6L1213.2 2039.4L1215.4 2045.1L1216.9 2051L1219.2 2056.6L1221.3 2062.3L1223.4 2068L1225.5 2073.6L1227.7 2079.3L1229.9 2084.9L1232.1 2090.6L1234.2 2096.2L1236.3 2101.8L1238.5 2107.4L1240.8 2113L1243 2118.6L1245.4 2124.1L1247.9 2129.6L1250.5 2135L1252.9 2140.5L1255.1 2146.1L1257.5 2151.5L1259.8 2157L1262.2 2162.5L1264.5 2168L1267.1 2173.3L1269.5 2178.8L1271.8 2184.3L1274.2 2189.7L1276.9 2194.9L1279.6 2200.2L1282.1 2205.6L1284.8 2210.8L1287.8 2215.9L1290.5 2221.1L1293.8 2225.9L1296.7 2231L1299.9 2235.9L1302.7 2241L1305.9 2245.8L1308.7 2251L1312.2 2255.6L1316.1 2259.9L1319.7 2264.4L1323.3 2268.9L1327 2273.3L1330.5 2277.9L1334.2 2282.4L1338.3 2286.5L1342.5 2290.5L1346.7 2294.5L1351.3 2298.1L1355.6 2302L1360.1 2305.9L1364.5 2309.8L1369.5 2313.2L1374.3 2316.8L1379.3 2320.1L1384.5 2323.1L1389.7 2326.3L1395 2329.4L1400.5 2332.1L1406.1 2334.8L1411.7 2337.5L1417.3 2340L1423 2342.5L1428.6 2345.2L1434.2 2348L1439.9 2350.5L1445.7 2352.6L1451.6 2354.9L1457.4 2357L1463.3 2358.8L1469.1 2361L1474.9 2363.2L1480.8 2365L1486.6 2366.8L1492.5 2368.7L1498.4 2370.4L1504.2 2372.2L1510 2374L1516 2375.2L1521.8 2376.9L1527.7 2378.3L1533.7 2379.6L1539.5 2381.1L1545.3 2382.9L1551.2 2384.2L1557.1 2385.5L1563 2386.8L1568.8 2388.2L1574.8 2389.2L1580.7 2390.2L1586.6 2391.1L1592.6 2391.9L1598.5 2392.8L1604.4 2393.7L1610.3 2394.8L1616.2 2395.9L1622.1 2396.7L1628.1 2397.1L1634 2398.3L1639.9 2399L1645.9 2399.6L1651.7 2400.8L1657.6 2401.9L1663.5 2402.7L1669.5 2403.3L1675.4 2404L1681.4 2404.2L1687.3 2404.7L1693.3 2405.1L1699.2 2405.7L1705.1 2406.2L1711.1 2407L1717 2407.7L1722.9 2408L1728.9 2408.7L1734.8 2409" fill="none" stroke="#000000" stroke-width="10.3" stroke-linecap="round" stroke-linejoin="round" />
<path d="M240 2314.7L246.2 2313.8L252.3 2312.7L258.4 2311.4L264.4 2309.9L270.3 2308.1L276.3 2306.3L282.3 2305L288.3 2303.6L294.2 2302L300.2 2300.8L306.2 2299.7L312 2297.6L317.7 2295.5L323.6 2294L329.3 2292.1L334.9 2289.8L340.7 2288L346.4 2286.2L351.9 2283.7L357.5 2281.6L363.1 2279.7L368.5 2277.1L373.9 2274.6L379.3 2272.1L384.5 2269.3L389.8 2266.6L395.1 2263.9L400.3 2261.1L405.5 2258.4L410.6 2255.4L415.6 2252.2L420.5 2248.9L425.5 2245.7L430.2 2242.2L435 2238.7L439.7 2235L444.4 2231.3L449 2227.6L453.5 2223.7L458.1 2219.9L462.3 2215.6L466.6 2211.5L470.9 2207.2L475.1 2203L479.1 2198.5L483.3 2194.2L487.6 2190L491.7 2185.6L495.7 2181.1L499.9 2176.7L503.8 2172.2L507.6 2167.5L511.4 2162.8L515.2 2158.2L518.9 2153.4L522.5 2148.6L526.2 2143.9L529.8 2139L533.6 2134.4L536.9 2129.4L540.4 2124.5L543.6 2119.4L546.9 2114.4L550.2 2109.4L553.6 2104.5L556.9 2099.5L560.2 2094.5L563.1 2089.2L565.9 2083.9L568.7 2078.6L571.7 2073.4L574.8 2068.3L577.9 2063.1L580.8 2057.9L583.6 2052.6L586.3 2047.2L589.1 2041.9L591.7 2036.5L594.5 2031.1L597.3 2025.8L600.2 2020.5L602.8 2015.1L605.4 2009.7L608.2 2004.4L610.8 1998.9L613.2 1993.4L615.8 1987.9L618.5 1982.5L620.8 1976.9L623.5 1971.5L626.1 1966L628.5 1960.5L631.3 1955.1L634 1949.7L636.3 1944L638.6 1938.5L640.9 1932.8L643.2 1927.2L645.1 1921.4L647.7 1915.9L650.2 1910.4L652.8 1905L655.2 1899.4L657.8 1893.9L660.1 1888.3L662.3 1882.6L664.7 1877L666.9 1871.4L669.3 1865.8L671.4 1860.1L674.1 1854.6L676.3 1849L678.8 1843.4L681.5 1838L684.1 1832.5L686.1 1826.8L688.9 1821.4L691.4 1815.9L693.7 1810.3L696.2 1804.7L699 1799.3L701 1793.6L703.3 1788L705.5 1782.3L708 1776.8L710.5 1771.3L713.6 1766.1L716.3 1760.7L719.1 1755.3L721.8 1749.9L724.5 1744.5L727 1739L729.7 1733.7L732.5 1728.3L735.2 1722.9L738 1717.6L740.6 1712.2L743.3 1706.8L746.1 1701.4L748.8 1696.1L751.8 1690.9L754.9 1685.7L757.8 1680.4L760.9 1675.3L764 1670.2L766.9 1664.9L769.9 1659.7L773.4 1654.8L776.5 1649.6L780.1 1644.8L783.6 1639.8L786.9 1634.9L790.3 1629.9L793.5 1624.8L796.7 1619.7L800.1 1614.7L803.9 1610L807.2 1604.9L811.1 1600.3L814.7 1595.4L818.6 1590.8L822.3 1586L826.3 1581.4L830.2 1576.7L834.3 1572.2L838.4 1567.6L842.3 1562.9L846.3 1558.3L850.7 1553.9L855 1549.5L859.2 1545.1L863.9 1541L868.2 1536.7L872.8 1532.5L877.3 1528.4L881.9 1524.5L886.7 1520.8L891.5 1517.3L896.4 1513.8L901.4 1510.7L906.4 1507.7L911.3 1504.8L916.4 1502.1L921.6 1499.6L926.9 1497.5L932.2 1495.6L937.6 1493.8L943.1 1492.6L948.7 1491.7L954.3 1490.9L960.1 1490.9L965.9 1491.3L971.8 1491.7L977.8 1492.7L983.7 1494.2L990 1495.5" fill="none" stroke="#0000ff" stroke-width="9.2" stroke-linecap="round" stroke-linejoin="round" />
<path d="M240 2314.7L245.5 2313.7L251.1 2312.8L256.7 2312L262.4 2311L268 2309.9L273.7 2308.9L279.5 2308L285.3 2306.8L291.2 2306.2L297.2 2305.6L303.1 2304.7L309 2303.7L315 2302.7L321 2301.7L327 2300.9L333.1 2300L339.2 2299.3L345.3 2298.4L351.4 2297.6L357.5 2296.5L363.7 2295.7L369.8 2294.7L376 2293.5L382.1 2292.3L388.2 2291L394.3 2289.5L400.4 2288.4L406.6 2287.5L412.8 2286.5L419 2285.6L425.2 2284.8L431.3 2283.5L437.4 2282.3L443.4 2281L449.5 2279.9L455.6 2278.5L461.7 2277.6L467.7 2276.5L473.7 2275.2L479.7 2273.9L485.8 2272.9L491.7 2271.5L497.6 2270.2L503.5 2268.9L509.4 2267.4L515.1 2265.4L520.7 2263.5L526.4 2261.6L532.1 2259.8L537.6 2257.7L543.2 2255.7L548.8 2253.8L554.3 2251.7L559.7 2249.1L565.1 2246.8L570.4 2244.3L575.6 2241.3L580.7 2238.4L585.9 2235.5L590.8 2232.3L595.7 2228.8L600.5 2225.3L605.3 2221.8L610.2 2218.2L614.7 2214.3L619.5 2210.8L623.9 2206.7L628.3 2202.6L632.5 2198.3L637 2194.2L640.9 2189.7L644.9 2185.3L648.9 2180.8L652.4 2175.9L656.1 2171.2L659.4 2166.3L662.7 2161.3L665.5 2156.1L668.4 2150.9L671 2145.7L673.8 2140.5L676.4 2135.3L678.8 2129.9L681.5 2124.7L683.5 2119.2L685.2 2113.5L687.5 2108.1L689.5 2102.5L691.2 2096.8L693.3 2091.3L695.5 2085.7L697.1 2080L699 2074.4L700.8 2068.7L702.6 2063L704.4 2057.3L706.4 2051.6L708 2045.8L710 2040.1L712.1 2034.5L714 2028.8L715.6 2023L717.7 2017.3L719.5 2011.5L721.3 2005.7L723.3 2000L725.8 1994.4L728 1988.8L730.3 1983.2L732.6 1977.5L734.9 1971.9L737.1 1966.2L739.1 1960.5L741.3 1954.8L743.5 1949.1L745.9 1943.5L748.1 1937.8L750.4 1932.2L752.5 1926.5L754.9 1920.8L757 1915.1L759.1 1909.4L761.3 1903.7L763.7 1898.1L765.9 1892.4L767.9 1886.7L770.4 1881.1L772.5 1875.5L774.7 1869.8L777 1864.2L779.4 1858.6L781.6 1853L783.8 1847.3L785.9 1841.7L788.2 1836.1L790.2 1830.4L792.2 1824.7L794.5 1819.1L796.7 1813.5L798.4 1807.8L800.6 1802.2L803 1796.6L805 1791L807.3 1785.5L809.8 1780L812.1 1774.4L814.3 1768.9L816.7 1763.4L818.4 1757.6L820.4 1751.9L822.5 1746.3L824.5 1740.7L826.6 1735L829.2 1729.6L831.6 1724.1L833.7 1718.5L835.9 1712.9L838.1 1707.3L840.4 1701.7L842.8 1696.2L845.2 1690.7L847.8 1685.3L850.4 1679.8L852.9 1674.3L855.1 1668.7L857.6 1663.1L860.1 1657.6L862.5 1652.1L865.1 1646.5L867.8 1641.1L870.6 1635.7L873.1 1630.2L875.9 1624.8L878.9 1619.6L881.8 1614.2L884.5 1608.8L887.8 1603.7L891 1598.7L894.1 1593.5L897.5 1588.5L901.2 1583.8L904.7 1578.9L908 1573.9L911.6 1569.1L915.2 1564.4L918.9 1559.6L922.4 1554.8L926.2 1550.3L930.2 1545.8L934.1 1541.3L938.3 1537.1L942.6 1533L946.9 1528.8L951.2 1524.6L955.7 1520.7L960.1 1516.6L964.8 1512.7L969.6 1509.1L974.6 1505.7L979.6 1502.1L984.8 1498.8L990 1495.5" fill="none" stroke="#0000ff" stroke-width="9.2" stroke-linecap="round" stroke-linejoin="round" />
<path d="M990 1495.5L996.1 1493.8L1002.2 1492.7L1008.3 1492.1L1014.2 1491.8L1020 1492.1L1025.7 1492.3L1031.3 1492.8L1036.9 1493.8L1042.4 1495L1047.8 1496.5L1053.1 1498.3L1058.4 1500.3L1063.5 1502.8L1068.7 1505.1L1073.8 1507.7L1078.8 1510.6L1083.6 1513.8L1088.4 1517.1L1092.9 1521L1097.5 1524.7L1102.1 1528.5L1106.6 1532.6L1111.2 1536.4L1115.8 1540.5L1120.4 1544.6L1124.7 1549.1L1129 1553.6L1133.1 1558.3L1137.1 1563.1L1140.9 1568.1L1145 1572.9L1148.8 1577.9L1152.6 1582.9L1156.5 1587.8L1160.4 1592.8L1164 1597.9L1167.7 1603L1171.3 1608L1174.9 1613.1L1178.3 1618.2L1181.9 1623.2L1185.4 1628.2L1188.7 1633.3L1192.2 1638.3L1195.5 1643.4L1198.5 1648.7L1201.8 1653.8L1205 1658.9L1207.8 1664.2L1210.8 1669.4L1214 1674.4L1217.2 1679.5L1220.2 1684.7L1223.3 1689.7L1226.1 1694.9L1229 1700.1L1231.7 1705.4L1234.3 1710.8L1236.9 1716L1239.7 1721.2L1242.6 1726.4L1245.1 1731.7L1248.3 1736.7L1251 1741.9L1254.1 1747L1256.4 1752.4L1259.4 1757.5L1261.7 1762.9L1264.2 1768.2L1266.5 1773.7L1269.2 1778.9L1271.4 1784.4L1273.9 1789.7L1276.4 1795.1L1279 1800.4L1281.4 1805.8L1283.8 1811.2L1286.6 1816.4L1289 1821.8L1291 1827.4L1293.5 1832.8L1295.9 1838.3L1298.1 1843.8L1300.4 1849.3L1303.2 1854.6L1305.7 1860L1308.1 1865.5L1310.3 1871.1L1312.7 1876.6L1315 1882.2L1317.2 1887.8L1319.8 1893.3L1322.7 1898.6L1325.1 1904.2L1327.3 1909.9L1329.9 1915.4L1332.4 1921L1334.6 1926.6L1337 1932.3L1339.6 1937.8L1341.9 1943.5L1344 1949.2L1346.4 1954.9L1349 1960.4L1351.4 1966.1L1354.3 1971.5L1357 1977L1359.7 1982.5L1362.3 1988.1L1365 1993.6L1367.6 1999.2L1370.2 2004.7L1372.9 2010.3L1375.8 2015.7L1378.5 2021.2L1381.3 2026.6L1384 2032.1L1386.8 2037.6L1389.4 2043.1L1392.3 2048.4L1395.1 2053.9L1398.3 2059.1L1401.3 2064.4L1404.3 2069.7L1407.4 2074.9L1410.9 2079.9L1413.9 2085.1L1417 2090.3L1420.4 2095.4L1423.5 2100.5L1426.6 2105.7L1429.9 2110.7L1433.3 2115.7L1436.7 2120.6L1440.2 2125.5L1443.6 2130.4L1447.1 2135.3L1450.5 2140.2L1454 2145.1L1457.5 2149.8L1461.2 2154.5L1464.9 2159.1L1468.8 2163.6L1472.6 2168.2L1476.4 2172.8L1480.3 2177.2L1484.2 2181.7L1488.4 2185.8L1492.2 2190.3L1496.3 2194.5L1500.4 2198.8L1504.6 2203L1508.6 2207.4L1513.1 2211.2L1517.5 2215.1L1522 2218.8L1526.6 2222.6L1531.2 2226.2L1535.9 2229.8L1540.6 2233.2L1545.1 2237L1549.8 2240.5L1554.5 2244L1559.3 2247.3L1564.2 2250.5L1569.3 2253.5L1574.5 2256.2L1579.6 2258.9L1584.7 2261.7L1589.9 2264.3L1595.1 2266.9L1600.4 2269.4L1605.8 2271.5L1611 2274.1L1616.3 2276.4L1621.7 2278.8L1627.1 2281.2L1632.5 2283.4L1638.1 2285.4L1643.7 2287.4L1649.5 2288.9L1655.3 2290.5L1661.1 2292.1L1666.9 2293.6L1672.8 2295.3L1678.6 2297.3L1684.6 2298.9L1690.6 2300.6L1696.6 2302.2L1702.8 2303.7L1708.9 2305.5L1715 2307.3L1721.2 2309.1L1727.4 2311.2L1733.6 2313.3L1740 2315" fill="none" stroke="#0000ff" stroke-width="9.2" stroke-linecap="round" stroke-linejoin="round" />
<path d="M990 1495.5L995.2 1498.9L1000.3 1502.2L1005.4 1505.6L1010.3 1509.2L1015.2 1512.7L1020 1516.4L1024.6 1520.4L1029.2 1524.1L1033.8 1528.1L1038 1532.3L1042.3 1536.5L1046.2 1541.1L1050.2 1545.5L1054 1550.1L1057.7 1554.8L1061.4 1559.4L1065.3 1564L1068.7 1568.9L1072.2 1573.7L1075.7 1578.6L1078.9 1583.7L1082.1 1588.7L1085.4 1593.8L1088.5 1599L1091.8 1604L1095.3 1609L1098.4 1614.2L1101.1 1619.5L1104.2 1624.8L1106.9 1630.2L1109.3 1635.8L1111.8 1641.3L1114.6 1646.7L1117.1 1652.2L1119.6 1657.7L1122.3 1663.2L1125 1668.6L1127.3 1674.2L1129.6 1679.8L1131.9 1685.4L1134.2 1691L1136.4 1696.6L1138.6 1702.2L1141.1 1707.7L1143.6 1713.1L1145.9 1718.7L1148.4 1724.1L1150.8 1729.7L1152.9 1735.2L1155.3 1740.7L1157.5 1746.3L1159.7 1751.9L1162.1 1757.4L1164.5 1762.9L1166.4 1768.6L1168.4 1774.2L1170.7 1779.8L1173 1785.3L1175 1791L1177 1796.6L1179.3 1802.2L1181.3 1807.9L1183.2 1813.6L1185.3 1819.2L1187.6 1824.8L1190.1 1830.3L1192.1 1836L1194.2 1841.6L1196.5 1847.2L1198.8 1852.8L1200.7 1858.5L1203.2 1864.1L1205.5 1869.7L1207.5 1875.4L1209.7 1881.1L1211.9 1886.8L1214.2 1892.4L1216.4 1898.1L1219.1 1903.6L1221.4 1909.2L1223.6 1914.9L1225.7 1920.6L1228 1926.2L1229.9 1932L1232.4 1937.6L1234.5 1943.4L1236.8 1949L1238.9 1954.7L1241.4 1960.3L1243.3 1966.1L1245.6 1971.7L1247.9 1977.4L1249.9 1983.1L1251.9 1988.8L1253.9 1994.6L1256.2 2000.2L1258 2006L1260.1 2011.6L1262.2 2017.3L1264.4 2023L1266.6 2028.6L1268.5 2034.3L1270.6 2040L1272.3 2045.7L1273.9 2051.5L1275.6 2057.3L1277.7 2062.9L1279.5 2068.6L1281.3 2074.3L1283.3 2079.9L1285 2085.6L1286.7 2091.3L1288.4 2097L1290.3 2102.6L1292.2 2108.2L1294.4 2113.7L1296.4 2119.2L1298.8 2124.6L1301.1 2129.9L1303.6 2135.3L1306.1 2140.6L1308.7 2145.8L1311.6 2151L1314.5 2156.1L1317.5 2161.2L1320.5 2166.3L1324 2171.2L1327.3 2176.1L1331 2180.8L1334.9 2185.4L1339 2189.8L1342.8 2194.5L1347 2198.8L1351.4 2202.9L1355.8 2207L1360.4 2210.8L1365.2 2214.5L1369.7 2218.5L1374.3 2222.2L1379.1 2225.8L1383.9 2229.5L1388.7 2232.9L1393.9 2236L1399 2239L1404.3 2241.7L1409.6 2244.2L1415 2246.5L1420.4 2248.9L1425.8 2251.3L1431.3 2253.4L1436.8 2255.8L1442.3 2257.9L1448 2259.7L1453.6 2261.8L1459.2 2263.8L1465 2265.4L1470.7 2267L1476.5 2268.8L1482.5 2269.8L1488.4 2271.2L1494.3 2272.6L1500.3 2274L1506.3 2275.2L1512.2 2276.6L1518.3 2277.7L1524.4 2278.7L1530.5 2279.7L1536.6 2280.6L1542.8 2281.6L1548.9 2282.8L1555 2284.1L1561.1 2285.3L1567.2 2286.7L1573.3 2287.9L1579.4 2289.1L1585.6 2290L1591.8 2291.2L1597.9 2292.3L1604.1 2293.3L1610.2 2294.5L1616.3 2295.5L1622.5 2296.4L1628.6 2297.2L1634.7 2298.3L1640.9 2298.8L1646.9 2299.7L1653 2300.9L1658.9 2302.1L1665 2302.7L1671 2303.8L1676.9 2304.9L1682.9 2305.5L1688.7 2306.4L1694.6 2307.4L1700.4 2308.3L1706.2 2309.2L1711.9 2310.3L1717.7 2311L1723.3 2311.8L1729 2312.5L1734.5 2313.5L1740 2314.7" fill="none" stroke="#0000ff" stroke-width="9.2" stroke-linecap="round" stroke-linejoin="round" /></g>
<g><line x1="196.3" y1="1342.4" x2="196.3" y2="2470" stroke="#000" stroke-width="5.7" stroke-linecap="butt"/>
<line x1="1784.5" y1="1342.4" x2="1784.5" y2="2470" stroke="#000" stroke-width="5.8" stroke-linecap="butt"/>
<line x1="193.5" y1="1344.8" x2="1787.4" y2="1344.8" stroke="#000" stroke-width="4.8" stroke-linecap="butt"/>
<line x1="193.5" y1="2467.6" x2="1787.4" y2="2467.6" stroke="#000" stroke-width="4.8" stroke-linecap="butt"/>
<line x1="196.3" y1="2378.4" x2="217.3" y2="2378.4" stroke="#000" stroke-width="4.6" stroke-linecap="butt"/>
<line x1="196.3" y1="2290.1" x2="206.8" y2="2290.1" stroke="#000" stroke-width="4.2" stroke-linecap="butt"/>
<line x1="196.3" y1="2201.8" x2="217.3" y2="2201.8" stroke="#000" stroke-width="4.6" stroke-linecap="butt"/>
<line x1="196.3" y1="2113.5" x2="206.8" y2="2113.5" stroke="#000" stroke-width="4.2" stroke-linecap="butt"/>
<line x1="196.3" y1="2025.2" x2="217.3" y2="2025.2" stroke="#000" stroke-width="4.6" stroke-linecap="butt"/>
<line x1="196.3" y1="1936.9" x2="206.8" y2="1936.9" stroke="#000" stroke-width="4.2" stroke-linecap="butt"/>
<line x1="196.3" y1="1848.6" x2="217.3" y2="1848.6" stroke="#000" stroke-width="4.6" stroke-linecap="butt"/>
<line x1="196.3" y1="1760.3" x2="206.8" y2="1760.3" stroke="#000" stroke-width="4.2" stroke-linecap="butt"/>
<line x1="196.3" y1="1672" x2="217.3" y2="1672" stroke="#000" stroke-width="4.6" stroke-linecap="butt"/>
<line x1="196.3" y1="1583.7" x2="206.8" y2="1583.7" stroke="#000" stroke-width="4.2" stroke-linecap="butt"/>
<line x1="196.3" y1="1407.1" x2="206.8" y2="1407.1" stroke="#000" stroke-width="4.2" stroke-linecap="butt"/>
<line x1="345.8" y1="2467.6" x2="345.8" y2="2447.6" stroke="#000" stroke-width="4.9" stroke-linecap="butt"/>
<line x1="506.8" y1="2467.6" x2="506.8" y2="2456.6" stroke="#000" stroke-width="4.4" stroke-linecap="butt"/>
<line x1="667.9" y1="2467.6" x2="667.9" y2="2447.6" stroke="#000" stroke-width="4.9" stroke-linecap="butt"/>
<line x1="829" y1="2467.6" x2="829" y2="2456.6" stroke="#000" stroke-width="4.4" stroke-linecap="butt"/>
<line x1="1151" y1="2467.6" x2="1151" y2="2456.6" stroke="#000" stroke-width="4.4" stroke-linecap="butt"/>
<line x1="1312.1" y1="2467.6" x2="1312.1" y2="2447.6" stroke="#000" stroke-width="4.9" stroke-linecap="butt"/>
<line x1="1473.2" y1="2467.6" x2="1473.2" y2="2456.6" stroke="#000" stroke-width="4.4" stroke-linecap="butt"/>
<line x1="1634.2" y1="2467.6" x2="1634.2" y2="2447.6" stroke="#000" stroke-width="4.9" stroke-linecap="butt"/>
<text x="176.6" y="1511.4" font-size="62" text-anchor="end" fill="#000" stroke="#000" stroke-width="0.35">0.0</text>
<text x="176.6" y="1688" font-size="62" text-anchor="end" fill="#000" stroke="#000" stroke-width="0.35">-0.2</text>
<text x="176.6" y="1864.6" font-size="62" text-anchor="end" fill="#000" stroke="#000" stroke-width="0.35">-0.4</text>
<text x="176.6" y="2041.2" font-size="62" text-anchor="end" fill="#000" stroke="#000" stroke-width="0.35">-0.6</text>
<text x="176.6" y="2217.8" font-size="62" text-anchor="end" fill="#000" stroke="#000" stroke-width="0.35">-0.8</text>
<text x="176.6" y="2394.4" font-size="62" text-anchor="end" fill="#000" stroke="#000" stroke-width="0.35">-1.0</text>
<text x="345.3" y="2535.5" font-size="61" text-anchor="middle" fill="#000" stroke="#000" stroke-width="0.35">-0.30</text>
<text x="667.4" y="2535.5" font-size="61" text-anchor="middle" fill="#000" stroke="#000" stroke-width="0.35">-0.15</text>
<text x="989.5" y="2535.5" font-size="61" text-anchor="middle" fill="#000" stroke="#000" stroke-width="0.35">0.00</text>
<text x="1311.6" y="2535.5" font-size="61" text-anchor="middle" fill="#000" stroke="#000" stroke-width="0.35">0.15</text>
<text x="1633.7" y="2535.5" font-size="61" text-anchor="middle" fill="#000" stroke="#000" stroke-width="0.35">0.30</text>
<text x="992" y="2596" font-size="60" text-anchor="middle" stroke="#000" stroke-width="0.35"><tspan font-style="italic">B</tspan> (T)</text>
<text transform="translate(73,1915) rotate(-90)" font-size="62" text-anchor="middle" stroke="#000" stroke-width="0.35"><tspan font-style="italic">MR</tspan> (<tspan font-style="italic">%</tspan>)</text>
<text x="213" y="1422" font-size="77" text-anchor="start" fill="#000" stroke="#000" stroke-width="0.60">(b)</text>
<text transform="translate(1536.5,1570) scale(1,1.04)" font-size="60" fill="#e00000" stroke="#e00000" stroke-width="0.45">300 K</text>
<text transform="translate(1520,1742.5) scale(1,1.04)" font-size="60" fill="#5a0000" stroke="#5a0000" stroke-width="0.45">250 K</text>
<text transform="translate(1532,1941.5) scale(1,1.04)" font-size="60" fill="#580058" stroke="#580058" stroke-width="0.45">150 K</text>
<text transform="translate(1548.5,2103.5) scale(1,1.04)" font-size="60" fill="#006020" stroke="#006020" stroke-width="0.45">75 K</text>
<text transform="translate(1575,2229.5) scale(1,1.04)" font-size="60" fill="#0000a8" stroke="#0000a8" stroke-width="0.45">35 K</text>
<text transform="translate(1151.6,2309.5) scale(1,1.04)" font-size="60" fill="#000" stroke="#000" stroke-width="0.45">10 K</text></g>
</svg>
</body></html>
